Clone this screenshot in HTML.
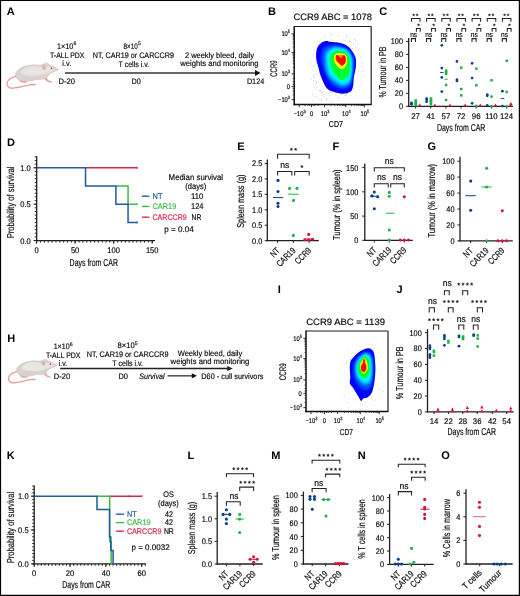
<!DOCTYPE html>
<html><head><meta charset="utf-8"><style>
html,body{margin:0;padding:0;background:#fff;}
body{width:520px;height:596px;overflow:hidden;}
svg{display:block;font-family:"Liberation Sans",sans-serif;will-change:transform;text-rendering:geometricPrecision;}
</style></head><body>
<svg width="520" height="596" viewBox="0 0 520 596">
<rect x="0" y="0" width="520" height="596" fill="#fff"/>
<path d="M0,0 H520 V596 H0 Z M1.1,1.0 V594.7 H518.8 V1.0 Z" fill="#000" fill-rule="evenodd"/>
<defs><filter id="mb" x="-10%" y="-10%" width="120%" height="120%"><feGaussianBlur stdDeviation="0.8"/></filter></defs>

<g>
 <path d="M15.6,76.3 C11.5,77.2 8,79.5 7,83 C6.4,86 9,88.4 12.6,88.2 C17,88 23,86.3 29.7,84.8 C32,84.4 34,84.4 35.3,84.7" fill="none" stroke="#e29d99" stroke-width="1.35" stroke-linecap="round"/>
 <path d="M18.4,79.2 C19.3,81.6 21,82.7 24,82.8 C26.3,82.9 27.8,82.4 27.6,81.5 C26.5,80.9 24.5,80.8 23.5,79.8 Z" fill="#e8a6a2"/>
 <path d="M43.6,77.3 C44.6,79.8 46.2,81.4 48.8,82.2 C50.3,82.7 52.2,82.7 52.4,81.9 C51.8,81.2 50.2,81.1 49,80.6 C47.8,79.9 47.2,78.6 46.8,77.2 Z" fill="#e8a6a2"/>
 <path d="M15.20,75.20 C15.10,74.18 15.73,73.02 16.20,72.20 C16.67,71.38 17.37,70.92 18.00,70.30 C18.63,69.68 19.28,69.02 20.00,68.50 C20.72,67.98 21.47,67.60 22.30,67.20 C23.13,66.80 24.08,66.40 25.00,66.10 C25.92,65.80 26.80,65.58 27.80,65.40 C28.80,65.22 29.97,65.10 31.00,65.00 C32.03,64.90 33.00,64.82 34.00,64.80 C35.00,64.78 35.92,64.88 37.00,64.90 C38.08,64.92 39.50,65.02 40.50,64.90 C41.50,64.78 42.25,64.42 43.00,64.20 C43.75,63.98 44.33,63.63 45.00,63.60 C45.67,63.57 46.12,63.75 47.00,64.00 C47.88,64.25 49.30,64.72 50.30,65.10 C51.30,65.48 52.08,65.87 53.00,66.30 C53.92,66.73 54.95,67.18 55.80,67.70 C56.65,68.22 57.88,68.92 58.10,69.40 C58.32,69.88 57.57,70.28 57.10,70.60 C56.63,70.92 55.95,71.03 55.30,71.30 C54.65,71.57 53.87,71.88 53.20,72.20 C52.53,72.52 51.92,72.82 51.30,73.20 C50.68,73.58 50.08,73.95 49.50,74.50 C48.92,75.05 48.42,75.87 47.80,76.50 C47.18,77.13 46.82,77.80 45.80,78.30 C44.78,78.80 43.08,79.32 41.70,79.50 C40.32,79.68 38.78,79.28 37.50,79.40 C36.22,79.52 35.25,79.95 34.00,80.20 C32.75,80.45 31.23,80.72 30.00,80.90 C28.77,81.08 28.18,81.35 26.60,81.30 C25.02,81.25 22.13,81.10 20.50,80.60 C18.87,80.10 17.68,79.20 16.80,78.30 C15.92,77.40 15.30,76.22 15.20,75.20 Z" fill="#d8d2cd" stroke="#cbc3bc" stroke-width="0.45"/>
 <path d="M21.00,71.50 C21.42,70.58 23.08,69.12 24.50,68.30 C25.92,67.48 27.58,66.95 29.50,66.60 C31.42,66.25 33.92,66.20 36.00,66.20 C38.08,66.20 40.25,66.47 42.00,66.60 C43.75,66.73 45.08,66.85 46.50,67.00 C47.92,67.15 49.17,67.12 50.50,67.50 C51.83,67.88 54.17,68.67 54.50,69.30 C54.83,69.93 53.67,70.65 52.50,71.30 C51.33,71.95 49.42,72.58 47.50,73.20 C45.58,73.82 43.42,74.60 41.00,75.00 C38.58,75.40 35.50,75.60 33.00,75.60 C30.50,75.60 27.83,75.30 26.00,75.00 C24.17,74.70 22.83,74.38 22.00,73.80 C21.17,73.22 20.58,72.42 21.00,71.50 Z" fill="#e8e6e4" filter="url(#mb)"/>
 <ellipse cx="46.3" cy="63.7" rx="1.5" ry="1.2" fill="#ddd7d2"/>
 <ellipse cx="44.0" cy="67.3" rx="2.0" ry="2.7" transform="rotate(-12 44 67.3)" fill="#eaaea9" stroke="#e2d8d3" stroke-width="0.4"/>
 <circle cx="51.5" cy="68.3" r="0.75" fill="#c0142c"/>
 <circle cx="57.8" cy="69.6" r="0.5" fill="#e3a5a2"/>
 <path d="M57.2,69.2 L60.2,64.6 M57.6,69.4 L60.8,66.8" stroke="#d6d6d6" stroke-width="0.3"/>
</g>
<g transform="translate(16.8 372.8) scale(0.94) translate(-15.8 -77.5)">
<g>
 <path d="M15.6,76.3 C11.5,77.2 8,79.5 7,83 C6.4,86 9,88.4 12.6,88.2 C17,88 23,86.3 29.7,84.8 C32,84.4 34,84.4 35.3,84.7" fill="none" stroke="#e29d99" stroke-width="1.35" stroke-linecap="round"/>
 <path d="M18.4,79.2 C19.3,81.6 21,82.7 24,82.8 C26.3,82.9 27.8,82.4 27.6,81.5 C26.5,80.9 24.5,80.8 23.5,79.8 Z" fill="#e8a6a2"/>
 <path d="M43.6,77.3 C44.6,79.8 46.2,81.4 48.8,82.2 C50.3,82.7 52.2,82.7 52.4,81.9 C51.8,81.2 50.2,81.1 49,80.6 C47.8,79.9 47.2,78.6 46.8,77.2 Z" fill="#e8a6a2"/>
 <path d="M15.20,75.20 C15.10,74.18 15.73,73.02 16.20,72.20 C16.67,71.38 17.37,70.92 18.00,70.30 C18.63,69.68 19.28,69.02 20.00,68.50 C20.72,67.98 21.47,67.60 22.30,67.20 C23.13,66.80 24.08,66.40 25.00,66.10 C25.92,65.80 26.80,65.58 27.80,65.40 C28.80,65.22 29.97,65.10 31.00,65.00 C32.03,64.90 33.00,64.82 34.00,64.80 C35.00,64.78 35.92,64.88 37.00,64.90 C38.08,64.92 39.50,65.02 40.50,64.90 C41.50,64.78 42.25,64.42 43.00,64.20 C43.75,63.98 44.33,63.63 45.00,63.60 C45.67,63.57 46.12,63.75 47.00,64.00 C47.88,64.25 49.30,64.72 50.30,65.10 C51.30,65.48 52.08,65.87 53.00,66.30 C53.92,66.73 54.95,67.18 55.80,67.70 C56.65,68.22 57.88,68.92 58.10,69.40 C58.32,69.88 57.57,70.28 57.10,70.60 C56.63,70.92 55.95,71.03 55.30,71.30 C54.65,71.57 53.87,71.88 53.20,72.20 C52.53,72.52 51.92,72.82 51.30,73.20 C50.68,73.58 50.08,73.95 49.50,74.50 C48.92,75.05 48.42,75.87 47.80,76.50 C47.18,77.13 46.82,77.80 45.80,78.30 C44.78,78.80 43.08,79.32 41.70,79.50 C40.32,79.68 38.78,79.28 37.50,79.40 C36.22,79.52 35.25,79.95 34.00,80.20 C32.75,80.45 31.23,80.72 30.00,80.90 C28.77,81.08 28.18,81.35 26.60,81.30 C25.02,81.25 22.13,81.10 20.50,80.60 C18.87,80.10 17.68,79.20 16.80,78.30 C15.92,77.40 15.30,76.22 15.20,75.20 Z" fill="#d8d2cd" stroke="#cbc3bc" stroke-width="0.45"/>
 <path d="M21.00,71.50 C21.42,70.58 23.08,69.12 24.50,68.30 C25.92,67.48 27.58,66.95 29.50,66.60 C31.42,66.25 33.92,66.20 36.00,66.20 C38.08,66.20 40.25,66.47 42.00,66.60 C43.75,66.73 45.08,66.85 46.50,67.00 C47.92,67.15 49.17,67.12 50.50,67.50 C51.83,67.88 54.17,68.67 54.50,69.30 C54.83,69.93 53.67,70.65 52.50,71.30 C51.33,71.95 49.42,72.58 47.50,73.20 C45.58,73.82 43.42,74.60 41.00,75.00 C38.58,75.40 35.50,75.60 33.00,75.60 C30.50,75.60 27.83,75.30 26.00,75.00 C24.17,74.70 22.83,74.38 22.00,73.80 C21.17,73.22 20.58,72.42 21.00,71.50 Z" fill="#e8e6e4" filter="url(#mb)"/>
 <ellipse cx="46.3" cy="63.7" rx="1.5" ry="1.2" fill="#ddd7d2"/>
 <ellipse cx="44.0" cy="67.3" rx="2.0" ry="2.7" transform="rotate(-12 44 67.3)" fill="#eaaea9" stroke="#e2d8d3" stroke-width="0.4"/>
 <circle cx="51.5" cy="68.3" r="0.75" fill="#c0142c"/>
 <circle cx="57.8" cy="69.6" r="0.5" fill="#e3a5a2"/>
 <path d="M57.2,69.2 L60.2,64.6 M57.6,69.4 L60.8,66.8" stroke="#d6d6d6" stroke-width="0.3"/>
</g></g>
<text x="6.80" y="15.10" font-size="11" fill="#000" font-weight="bold">A</text>
<text x="56.90" y="48.80" font-size="8.0" stroke="#231f20" stroke-width="0.18" textLength="16.31" lengthAdjust="spacingAndGlyphs">1×10</text>
<text x="73.41" y="45.44" font-size="5.2" stroke="#231f20" stroke-width="0.18" textLength="2.89" lengthAdjust="spacingAndGlyphs">6</text>
<text x="50.00" y="57.80" font-size="8.0" stroke="#231f20" stroke-width="0.18" textLength="34.40" lengthAdjust="spacingAndGlyphs">T-ALL PDX</text>
<text x="62.30" y="66.30" font-size="8.0" stroke="#231f20" stroke-width="0.18" textLength="9.00" lengthAdjust="spacingAndGlyphs">i.v.</text>
<text x="58.50" y="83.50" font-size="8.0" stroke="#231f20" stroke-width="0.18" textLength="16.50" lengthAdjust="spacingAndGlyphs">D-20</text>
<text x="123.50" y="48.80" font-size="8.0" stroke="#231f20" stroke-width="0.18" textLength="14.21" lengthAdjust="spacingAndGlyphs">8×10</text>
<text x="137.91" y="45.44" font-size="5.2" stroke="#231f20" stroke-width="0.18" textLength="2.89" lengthAdjust="spacingAndGlyphs">5</text>
<text x="92.80" y="57.80" font-size="8.0" stroke="#231f20" stroke-width="0.18" textLength="81.10" lengthAdjust="spacingAndGlyphs">NT, CAR19 or CARCCR9</text>
<text x="118.50" y="66.80" font-size="8.0" stroke="#231f20" stroke-width="0.18" textLength="30.70" lengthAdjust="spacingAndGlyphs">T cells i.v.</text>
<text x="131.50" y="83.50" font-size="8.0" stroke="#231f20" stroke-width="0.18" textLength="9.30" lengthAdjust="spacingAndGlyphs">D0</text>
<text x="184.90" y="57.80" font-size="8.0" stroke="#231f20" stroke-width="0.18" textLength="69.10" lengthAdjust="spacingAndGlyphs">2 weekly bleed, daily</text>
<text x="180.30" y="66.30" font-size="8.0" stroke="#231f20" stroke-width="0.18" textLength="78.20" lengthAdjust="spacingAndGlyphs">weights and monitoring</text>
<text x="246.90" y="83.60" font-size="8.0" stroke="#231f20" stroke-width="0.18" textLength="17.30" lengthAdjust="spacingAndGlyphs">D124</text>
<line x1="65.00" y1="73.00" x2="256.00" y2="73.00" stroke="#333" stroke-width="1.5"/>
<polygon points="255,70.1 260.6,73.0 255,76.0" fill="#111"/>
<text x="7.30" y="342.30" font-size="11" fill="#000" font-weight="bold">H</text>
<text x="53.70" y="348.90" font-size="8.0" stroke="#231f20" stroke-width="0.18" textLength="15.91" lengthAdjust="spacingAndGlyphs">1×10</text>
<text x="69.81" y="345.54" font-size="5.2" stroke="#231f20" stroke-width="0.18" textLength="2.89" lengthAdjust="spacingAndGlyphs">6</text>
<text x="45.90" y="357.90" font-size="8.0" stroke="#231f20" stroke-width="0.18" textLength="34.60" lengthAdjust="spacingAndGlyphs">T-ALL PDX</text>
<text x="58.80" y="366.00" font-size="8.0" stroke="#231f20" stroke-width="0.18" textLength="8.40" lengthAdjust="spacingAndGlyphs">i.v.</text>
<text x="53.70" y="379.00" font-size="8.0" stroke="#231f20" stroke-width="0.18" textLength="16.40" lengthAdjust="spacingAndGlyphs">D-20</text>
<text x="117.50" y="348.40" font-size="8.0" stroke="#231f20" stroke-width="0.18" textLength="17.11" lengthAdjust="spacingAndGlyphs">8×10</text>
<text x="134.81" y="345.04" font-size="5.2" stroke="#231f20" stroke-width="0.18" textLength="2.89" lengthAdjust="spacingAndGlyphs">5</text>
<text x="86.70" y="357.30" font-size="8.0" stroke="#231f20" stroke-width="0.18" textLength="81.80" lengthAdjust="spacingAndGlyphs">NT, CAR19 or CARCCR9</text>
<text x="112.30" y="366.30" font-size="8.0" stroke="#231f20" stroke-width="0.18" textLength="30.70" lengthAdjust="spacingAndGlyphs">T cells i.v.</text>
<text x="118.50" y="378.80" font-size="8.0" stroke="#231f20" stroke-width="0.18" textLength="9.50" lengthAdjust="spacingAndGlyphs">D0</text>
<text x="139.20" y="378.80" font-size="8.0" stroke="#231f20" stroke-width="0.18" font-style="italic" textLength="25.40" lengthAdjust="spacingAndGlyphs">Survival</text>
<text x="177.70" y="355.70" font-size="8.0" stroke="#231f20" stroke-width="0.18" textLength="64.60" lengthAdjust="spacingAndGlyphs">Weekly bleed, daily</text>
<text x="170.60" y="364.00" font-size="8.0" stroke="#231f20" stroke-width="0.18" textLength="78.80" lengthAdjust="spacingAndGlyphs">weights and monitoring</text>
<text x="201.30" y="378.90" font-size="8.0" stroke="#231f20" stroke-width="0.18" textLength="62.20" lengthAdjust="spacingAndGlyphs">D60 - cull survivors</text>
<line x1="60.20" y1="368.50" x2="228.00" y2="368.50" stroke="#231f20" stroke-width="1.5"/>
<polygon points="227.2,365.9 232.8,368.5 227.2,371.1" fill="#231f20"/>
<line x1="167.50" y1="375.80" x2="192.50" y2="375.80" stroke="#555" stroke-width="1.6"/>
<polygon points="191.8,373.2 196.9,375.8 191.8,378.4" fill="#111"/>
<text x="268.00" y="15.40" font-size="11" fill="#000" font-weight="bold">B</text>
<text x="293.50" y="20.30" font-size="9.2" stroke="#231f20" stroke-width="0.18" textLength="78.50" lengthAdjust="spacingAndGlyphs">CCR9 ABC = 1078</text>
<rect x="338.9" y="97.9" width="0.7" height="0.7" fill="#8a8a8a" opacity="0.7"/>
<rect x="319.6" y="90.0" width="0.7" height="0.7" fill="#8a8a8a" opacity="0.7"/>
<rect x="321.9" y="48.1" width="0.7" height="0.7" fill="#8a8a8a" opacity="0.7"/>
<rect x="364.1" y="69.8" width="0.7" height="0.7" fill="#8a8a8a" opacity="0.7"/>
<rect x="335.7" y="95.1" width="0.7" height="0.7" fill="#8a8a8a" opacity="0.7"/>
<rect x="361.4" y="66.2" width="0.7" height="0.7" fill="#8a8a8a" opacity="0.7"/>
<rect x="349.7" y="41.0" width="0.7" height="0.7" fill="#8a8a8a" opacity="0.7"/>
<rect x="322.8" y="46.0" width="0.7" height="0.7" fill="#8a8a8a" opacity="0.7"/>
<rect x="318.9" y="41.6" width="0.7" height="0.7" fill="#8a8a8a" opacity="0.7"/>
<rect x="310.8" y="62.2" width="0.7" height="0.7" fill="#8a8a8a" opacity="0.7"/>
<rect x="326.8" y="43.6" width="0.7" height="0.7" fill="#8a8a8a" opacity="0.7"/>
<rect x="338.3" y="35.7" width="0.7" height="0.7" fill="#8a8a8a" opacity="0.7"/>
<rect x="330.3" y="91.9" width="0.7" height="0.7" fill="#8a8a8a" opacity="0.7"/>
<rect x="353.2" y="44.3" width="0.7" height="0.7" fill="#8a8a8a" opacity="0.7"/>
<rect x="331.7" y="33.7" width="0.7" height="0.7" fill="#8a8a8a" opacity="0.7"/>
<rect x="330.8" y="33.5" width="0.7" height="0.7" fill="#8a8a8a" opacity="0.7"/>
<rect x="315.8" y="87.4" width="0.7" height="0.7" fill="#8a8a8a" opacity="0.7"/>
<rect x="310.8" y="78.8" width="0.7" height="0.7" fill="#8a8a8a" opacity="0.7"/>
<rect x="352.7" y="48.5" width="0.7" height="0.7" fill="#8a8a8a" opacity="0.7"/>
<rect x="351.8" y="88.1" width="0.7" height="0.7" fill="#8a8a8a" opacity="0.7"/>
<rect x="360.6" y="60.6" width="0.7" height="0.7" fill="#8a8a8a" opacity="0.7"/>
<rect x="320.8" y="46.5" width="0.7" height="0.7" fill="#8a8a8a" opacity="0.7"/>
<rect x="313.2" y="65.7" width="0.7" height="0.7" fill="#8a8a8a" opacity="0.7"/>
<rect x="322.0" y="92.2" width="0.7" height="0.7" fill="#8a8a8a" opacity="0.7"/>
<rect x="313.1" y="49.7" width="0.7" height="0.7" fill="#8a8a8a" opacity="0.7"/>
<rect x="325.5" y="35.6" width="0.7" height="0.7" fill="#8a8a8a" opacity="0.7"/>
<rect x="354.5" y="39.5" width="0.7" height="0.7" fill="#8a8a8a" opacity="0.7"/>
<rect x="326.5" y="42.8" width="0.7" height="0.7" fill="#8a8a8a" opacity="0.7"/>
<rect x="355.0" y="40.3" width="0.7" height="0.7" fill="#8a8a8a" opacity="0.7"/>
<rect x="357.8" y="49.4" width="0.7" height="0.7" fill="#8a8a8a" opacity="0.7"/>
<rect x="331.9" y="39.8" width="0.7" height="0.7" fill="#8a8a8a" opacity="0.7"/>
<rect x="349.4" y="39.8" width="0.7" height="0.7" fill="#8a8a8a" opacity="0.7"/>
<rect x="332.3" y="92.9" width="0.7" height="0.7" fill="#8a8a8a" opacity="0.7"/>
<rect x="354.2" y="39.2" width="0.7" height="0.7" fill="#8a8a8a" opacity="0.7"/>
<rect x="359.8" y="84.6" width="0.7" height="0.7" fill="#8a8a8a" opacity="0.7"/>
<rect x="318.3" y="81.6" width="0.7" height="0.7" fill="#8a8a8a" opacity="0.7"/>
<rect x="329.7" y="98.7" width="0.7" height="0.7" fill="#8a8a8a" opacity="0.7"/>
<rect x="351.9" y="48.1" width="0.7" height="0.7" fill="#8a8a8a" opacity="0.7"/>
<rect x="321.0" y="49.6" width="0.7" height="0.7" fill="#8a8a8a" opacity="0.7"/>
<rect x="332.4" y="38.6" width="0.7" height="0.7" fill="#8a8a8a" opacity="0.7"/>
<rect x="357.7" y="43.2" width="0.7" height="0.7" fill="#8a8a8a" opacity="0.7"/>
<rect x="308.7" y="65.8" width="0.7" height="0.7" fill="#8a8a8a" opacity="0.7"/>
<rect x="329.1" y="91.8" width="0.7" height="0.7" fill="#8a8a8a" opacity="0.7"/>
<rect x="319.8" y="51.6" width="0.7" height="0.7" fill="#8a8a8a" opacity="0.7"/>
<rect x="344.8" y="95.1" width="0.7" height="0.7" fill="#8a8a8a" opacity="0.7"/>
<rect x="320.0" y="49.5" width="0.7" height="0.7" fill="#8a8a8a" opacity="0.7"/>
<rect x="363.4" y="75.9" width="0.7" height="0.7" fill="#8a8a8a" opacity="0.7"/>
<rect x="326.1" y="99.0" width="0.7" height="0.7" fill="#8a8a8a" opacity="0.7"/>
<rect x="355.9" y="49.2" width="0.7" height="0.7" fill="#8a8a8a" opacity="0.7"/>
<rect x="312.9" y="74.6" width="0.7" height="0.7" fill="#8a8a8a" opacity="0.7"/>
<rect x="321.3" y="42.3" width="0.7" height="0.7" fill="#8a8a8a" opacity="0.7"/>
<rect x="313.2" y="55.5" width="0.7" height="0.7" fill="#8a8a8a" opacity="0.7"/>
<rect x="360.0" y="55.8" width="0.7" height="0.7" fill="#8a8a8a" opacity="0.7"/>
<rect x="313.1" y="80.6" width="0.7" height="0.7" fill="#8a8a8a" opacity="0.7"/>
<rect x="338.8" y="95.7" width="0.7" height="0.7" fill="#8a8a8a" opacity="0.7"/>
<rect x="361.6" y="62.7" width="0.7" height="0.7" fill="#8a8a8a" opacity="0.7"/>
<rect x="316.9" y="59.2" width="0.7" height="0.7" fill="#8a8a8a" opacity="0.7"/>
<rect x="315.2" y="82.9" width="0.7" height="0.7" fill="#8a8a8a" opacity="0.7"/>
<rect x="362.3" y="71.0" width="0.7" height="0.7" fill="#8a8a8a" opacity="0.7"/>
<rect x="322.5" y="47.4" width="0.7" height="0.7" fill="#8a8a8a" opacity="0.7"/>
<rect x="320.0" y="45.3" width="0.7" height="0.7" fill="#8a8a8a" opacity="0.7"/>
<rect x="326.9" y="40.6" width="0.7" height="0.7" fill="#8a8a8a" opacity="0.7"/>
<rect x="329.9" y="35.5" width="0.7" height="0.7" fill="#8a8a8a" opacity="0.7"/>
<rect x="358.2" y="70.7" width="0.7" height="0.7" fill="#8a8a8a" opacity="0.7"/>
<rect x="324.4" y="35.9" width="0.7" height="0.7" fill="#8a8a8a" opacity="0.7"/>
<rect x="336.8" y="97.2" width="0.7" height="0.7" fill="#8a8a8a" opacity="0.7"/>
<rect x="317.5" y="51.1" width="0.7" height="0.7" fill="#8a8a8a" opacity="0.7"/>
<rect x="321.7" y="88.8" width="0.7" height="0.7" fill="#8a8a8a" opacity="0.7"/>
<rect x="319.7" y="90.0" width="0.7" height="0.7" fill="#8a8a8a" opacity="0.7"/>
<rect x="329.6" y="95.0" width="0.7" height="0.7" fill="#8a8a8a" opacity="0.7"/>
<rect x="340.0" y="41.0" width="0.7" height="0.7" fill="#8a8a8a" opacity="0.7"/>
<rect x="313.1" y="53.2" width="0.7" height="0.7" fill="#8a8a8a" opacity="0.7"/>
<rect x="328.7" y="93.1" width="0.7" height="0.7" fill="#8a8a8a" opacity="0.7"/>
<rect x="344.5" y="40.4" width="0.7" height="0.7" fill="#8a8a8a" opacity="0.7"/>
<rect x="346.3" y="94.7" width="0.7" height="0.7" fill="#8a8a8a" opacity="0.7"/>
<rect x="330.0" y="41.5" width="0.7" height="0.7" fill="#8a8a8a" opacity="0.7"/>
<rect x="326.8" y="93.1" width="0.7" height="0.7" fill="#8a8a8a" opacity="0.7"/>
<rect x="349.1" y="41.0" width="0.7" height="0.7" fill="#8a8a8a" opacity="0.7"/>
<rect x="350.7" y="45.3" width="0.7" height="0.7" fill="#8a8a8a" opacity="0.7"/>
<rect x="323.6" y="94.3" width="0.7" height="0.7" fill="#8a8a8a" opacity="0.7"/>
<rect x="355.2" y="47.1" width="0.7" height="0.7" fill="#8a8a8a" opacity="0.7"/>
<rect x="340.4" y="93.8" width="0.7" height="0.7" fill="#8a8a8a" opacity="0.7"/>
<rect x="315.0" y="61.9" width="0.7" height="0.7" fill="#8a8a8a" opacity="0.7"/>
<rect x="346.5" y="35.5" width="0.7" height="0.7" fill="#8a8a8a" opacity="0.7"/>
<rect x="346.3" y="93.1" width="0.7" height="0.7" fill="#8a8a8a" opacity="0.7"/>
<rect x="346.0" y="37.2" width="0.7" height="0.7" fill="#8a8a8a" opacity="0.7"/>
<rect x="345.1" y="39.7" width="0.7" height="0.7" fill="#8a8a8a" opacity="0.7"/>
<rect x="352.9" y="87.9" width="0.7" height="0.7" fill="#8a8a8a" opacity="0.7"/>
<rect x="343.3" y="39.6" width="0.7" height="0.7" fill="#8a8a8a" opacity="0.7"/>
<rect x="323.3" y="91.5" width="0.7" height="0.7" fill="#8a8a8a" opacity="0.7"/>
<rect x="312.1" y="100.3" width="0.7" height="0.7" fill="#8a8a8a" opacity="0.7"/>
<rect x="331.4" y="101.6" width="0.7" height="0.7" fill="#8a8a8a" opacity="0.7"/>
<rect x="321.6" y="100.5" width="0.7" height="0.7" fill="#8a8a8a" opacity="0.7"/>
<rect x="317.0" y="74.0" width="0.7" height="0.7" fill="#8a8a8a" opacity="0.7"/>
<rect x="312.3" y="94.4" width="0.7" height="0.7" fill="#8a8a8a" opacity="0.7"/>
<rect x="315.8" y="81.0" width="0.7" height="0.7" fill="#8a8a8a" opacity="0.7"/>
<rect x="321.1" y="100.2" width="0.7" height="0.7" fill="#8a8a8a" opacity="0.7"/>
<rect x="317.6" y="97.8" width="0.7" height="0.7" fill="#8a8a8a" opacity="0.7"/>
<rect x="322.5" y="95.5" width="0.7" height="0.7" fill="#8a8a8a" opacity="0.7"/>
<rect x="323.8" y="96.5" width="0.7" height="0.7" fill="#8a8a8a" opacity="0.7"/>
<rect x="315.8" y="95.8" width="0.7" height="0.7" fill="#8a8a8a" opacity="0.7"/>
<rect x="325.8" y="97.9" width="0.7" height="0.7" fill="#8a8a8a" opacity="0.7"/>
<rect x="313.1" y="80.1" width="0.7" height="0.7" fill="#8a8a8a" opacity="0.7"/>
<rect x="313.2" y="75.8" width="0.7" height="0.7" fill="#8a8a8a" opacity="0.7"/>
<rect x="314.7" y="74.1" width="0.7" height="0.7" fill="#8a8a8a" opacity="0.7"/>
<rect x="313.9" y="87.1" width="0.7" height="0.7" fill="#8a8a8a" opacity="0.7"/>
<rect x="319.7" y="91.4" width="0.7" height="0.7" fill="#8a8a8a" opacity="0.7"/>
<rect x="316.2" y="81.9" width="0.7" height="0.7" fill="#8a8a8a" opacity="0.7"/>
<rect x="314.7" y="88.7" width="0.7" height="0.7" fill="#8a8a8a" opacity="0.7"/>
<rect x="313.8" y="77.4" width="0.7" height="0.7" fill="#8a8a8a" opacity="0.7"/>
<rect x="321.3" y="92.8" width="0.7" height="0.7" fill="#8a8a8a" opacity="0.7"/>
<rect x="313.6" y="84.7" width="0.7" height="0.7" fill="#8a8a8a" opacity="0.7"/>
<rect x="321.4" y="98.4" width="0.7" height="0.7" fill="#8a8a8a" opacity="0.7"/>
<rect x="314.7" y="96.4" width="0.7" height="0.7" fill="#8a8a8a" opacity="0.7"/>
<rect x="326.6" y="98.6" width="0.7" height="0.7" fill="#8a8a8a" opacity="0.7"/>
<defs><filter id="bl" x="-20%" y="-20%" width="140%" height="140%"><feGaussianBlur stdDeviation="1.0"/></filter><filter id="bl2" x="-20%" y="-20%" width="140%" height="140%"><feGaussianBlur stdDeviation="0.7"/></filter></defs>
<path d="M326.07,41.11 C324.38,41.35 322.07,42.18 320.54,43.51 C319.00,44.83 317.57,46.55 316.85,49.04 C316.12,51.53 315.92,55.34 316.20,58.45 C316.48,61.56 317.81,64.91 318.51,67.68 C319.20,70.44 319.58,72.72 320.35,75.06 C321.12,77.39 322.04,79.51 323.12,81.70 C324.19,83.88 325.09,86.46 326.81,88.15 C328.53,89.85 330.81,90.92 333.45,91.85 C336.09,92.77 339.88,93.69 342.68,93.69 C345.47,93.69 348.52,93.11 350.24,91.85 C351.96,90.58 352.39,88.62 353.01,86.13 C353.62,83.63 353.47,79.98 353.93,76.90 C354.39,73.83 355.47,70.75 355.77,67.68 C356.08,64.60 356.39,61.25 355.77,58.45 C355.16,55.65 353.65,53.07 352.08,50.89 C350.52,48.70 348.70,46.73 346.37,45.35 C344.03,43.97 340.68,43.14 338.06,42.58 C335.45,42.03 332.68,42.28 330.68,42.03 C328.68,41.78 327.76,40.86 326.07,41.11 Z" fill="#0000ff"/>
<g filter="url(#bl)">
<path d="M328.84,45.54 C326.84,46.07 324.53,46.15 323.30,48.30 C322.07,50.46 321.38,54.91 321.46,58.45 C321.53,61.99 322.69,66.14 323.76,69.52 C324.84,72.90 326.15,75.98 327.92,78.75 C329.68,81.51 331.91,84.43 334.37,86.13 C336.83,87.82 340.14,88.89 342.68,88.89 C345.21,88.89 348.13,88.12 349.59,86.13 C351.05,84.13 350.82,79.98 351.44,76.90 C352.05,73.83 352.98,70.90 353.28,67.68 C353.59,64.45 353.98,60.45 353.28,57.53 C352.59,54.61 350.90,51.99 349.13,50.15 C347.36,48.30 344.98,47.30 342.68,46.46 C340.37,45.61 337.60,45.23 335.30,45.07 C332.99,44.92 330.84,45.00 328.84,45.54 Z" fill="#0050ff"/>
<path d="M332.53,47.38 C330.22,48.15 327.30,49.84 326.07,51.99 C324.84,54.15 325.15,57.22 325.15,60.30 C325.15,63.37 325.15,67.37 326.07,70.44 C326.99,73.52 328.68,76.44 330.68,78.75 C332.68,81.05 336.06,83.05 338.06,84.28 C340.06,85.51 340.68,86.28 342.68,86.13 C344.67,85.97 348.44,85.20 350.06,83.36 C351.67,81.51 351.90,77.67 352.36,75.06 C352.82,72.44 352.90,70.60 352.82,67.68 C352.75,64.75 352.82,60.53 351.90,57.53 C350.98,54.53 349.29,51.38 347.29,49.69 C345.29,48.00 342.37,47.76 339.91,47.38 C337.45,47.00 334.83,46.61 332.53,47.38 Z" fill="#00a8ff"/>
<path d="M333.45,48.76 C331.37,49.66 328.53,51.92 327.45,53.84 C326.38,55.76 326.92,57.99 326.99,60.30 C327.07,62.60 327.41,65.23 327.92,67.68 C328.42,70.12 328.65,72.81 330.04,74.96 C331.42,77.12 334.11,79.08 336.22,80.59 C338.32,82.10 340.52,83.93 342.68,84.00 C344.83,84.08 347.63,82.56 349.13,81.05 C350.64,79.54 351.25,77.19 351.72,74.96 C352.18,72.73 352.02,70.73 351.90,67.68 C351.78,64.62 352.05,59.53 350.98,56.61 C349.90,53.68 347.29,51.50 345.44,50.15 C343.60,48.79 341.91,48.72 339.91,48.49 C337.91,48.26 335.53,47.87 333.45,48.76 Z" fill="#00f4ff"/>
</g><g filter="url(#bl2)">
<path d="M336.22,50.89 C333.91,51.35 331.94,52.85 330.87,54.58 C329.79,56.30 329.67,59.03 329.76,61.22 C329.85,63.40 330.51,65.38 331.42,67.68 C332.33,69.97 333.33,72.89 335.20,74.96 C337.08,77.04 340.43,80.13 342.68,80.13 C344.92,80.13 347.44,76.73 348.67,74.96 C349.90,73.19 349.95,72.27 350.06,69.52 C350.16,66.77 350.21,61.40 349.32,58.45 C348.43,55.50 346.89,53.07 344.70,51.81 C342.52,50.55 338.52,50.42 336.22,50.89 Z" fill="#00ff30"/>
<path d="M336.03,53.84 C334.39,54.61 333.73,56.64 333.73,58.45 C333.73,60.26 334.70,62.91 336.03,64.72 C337.37,66.54 340.00,69.34 341.75,69.34 C343.51,69.34 345.72,66.85 346.55,64.72 C347.38,62.60 347.23,58.42 346.73,56.61 C346.24,54.79 345.38,54.30 343.60,53.84 C341.81,53.38 337.68,53.07 336.03,53.84 Z" fill="#f0ff00"/>
<path d="M336.40,55.68 C335.11,56.50 335.13,58.60 335.48,59.83 C335.83,61.06 337.48,62.06 338.52,63.06 C339.57,64.06 340.60,65.91 341.75,65.83 C342.91,65.75 344.80,64.06 345.44,62.60 C346.09,61.14 346.00,58.34 345.63,57.07 C345.26,55.79 344.77,55.18 343.23,54.94 C341.69,54.71 337.69,54.87 336.40,55.68 Z" fill="#ff9000"/>
<path d="M336.03,55.87 C336.25,54.94 337.26,54.82 338.06,55.22 C338.86,55.62 339.91,58.27 340.83,58.27 C341.75,58.27 342.80,55.31 343.60,55.22 C344.40,55.13 345.32,56.53 345.63,57.71 C345.93,58.90 345.78,61.16 345.44,62.32 C345.10,63.49 344.21,64.17 343.60,64.72 C342.98,65.28 342.52,65.92 341.75,65.65 C340.98,65.37 339.82,63.88 338.99,63.06 C338.15,62.25 337.26,61.96 336.77,60.76 C336.28,59.56 335.82,56.79 336.03,55.87 Z" fill="#ff0000"/>
</g>
<line x1="294.20" y1="26.50" x2="371.20" y2="26.50" stroke="#222" stroke-width="1.2"/>
<line x1="371.20" y1="26.50" x2="371.20" y2="104.60" stroke="#222" stroke-width="1.2"/>
<line x1="294.20" y1="26.00" x2="294.20" y2="105.30" stroke="#111" stroke-width="1.5"/>
<line x1="293.50" y1="104.60" x2="371.70" y2="104.60" stroke="#111" stroke-width="1.5"/>
<line x1="291.60" y1="33.80" x2="294.20" y2="33.80" stroke="#231f20" stroke-width="0.9"/>
<line x1="291.60" y1="52.60" x2="294.20" y2="52.60" stroke="#231f20" stroke-width="0.9"/>
<line x1="291.60" y1="73.80" x2="294.20" y2="73.80" stroke="#231f20" stroke-width="0.9"/>
<line x1="291.60" y1="86.60" x2="294.20" y2="86.60" stroke="#231f20" stroke-width="0.9"/>
<line x1="291.60" y1="99.60" x2="294.20" y2="99.60" stroke="#231f20" stroke-width="0.9"/>
<line x1="292.70" y1="46.94" x2="294.20" y2="46.94" stroke="#231f20" stroke-width="0.7"/>
<line x1="292.70" y1="43.63" x2="294.20" y2="43.63" stroke="#231f20" stroke-width="0.7"/>
<line x1="292.70" y1="41.28" x2="294.20" y2="41.28" stroke="#231f20" stroke-width="0.7"/>
<line x1="292.70" y1="39.46" x2="294.20" y2="39.46" stroke="#231f20" stroke-width="0.7"/>
<line x1="292.70" y1="37.97" x2="294.20" y2="37.97" stroke="#231f20" stroke-width="0.7"/>
<line x1="292.70" y1="36.71" x2="294.20" y2="36.71" stroke="#231f20" stroke-width="0.7"/>
<line x1="292.70" y1="35.62" x2="294.20" y2="35.62" stroke="#231f20" stroke-width="0.7"/>
<line x1="292.70" y1="34.66" x2="294.20" y2="34.66" stroke="#231f20" stroke-width="0.7"/>
<line x1="292.70" y1="67.42" x2="294.20" y2="67.42" stroke="#231f20" stroke-width="0.7"/>
<line x1="292.70" y1="63.69" x2="294.20" y2="63.69" stroke="#231f20" stroke-width="0.7"/>
<line x1="292.70" y1="61.04" x2="294.20" y2="61.04" stroke="#231f20" stroke-width="0.7"/>
<line x1="292.70" y1="58.98" x2="294.20" y2="58.98" stroke="#231f20" stroke-width="0.7"/>
<line x1="292.70" y1="57.30" x2="294.20" y2="57.30" stroke="#231f20" stroke-width="0.7"/>
<line x1="292.70" y1="55.88" x2="294.20" y2="55.88" stroke="#231f20" stroke-width="0.7"/>
<line x1="292.70" y1="54.65" x2="294.20" y2="54.65" stroke="#231f20" stroke-width="0.7"/>
<line x1="292.70" y1="53.57" x2="294.20" y2="53.57" stroke="#231f20" stroke-width="0.7"/>
<line x1="292.70" y1="78.50" x2="294.20" y2="78.50" stroke="#231f20" stroke-width="0.7"/>
<line x1="292.70" y1="82.00" x2="294.20" y2="82.00" stroke="#231f20" stroke-width="0.7"/>
<line x1="292.70" y1="84.50" x2="294.20" y2="84.50" stroke="#231f20" stroke-width="0.7"/>
<line x1="292.70" y1="88.70" x2="294.20" y2="88.70" stroke="#231f20" stroke-width="0.7"/>
<line x1="292.70" y1="91.20" x2="294.20" y2="91.20" stroke="#231f20" stroke-width="0.7"/>
<line x1="292.70" y1="95.00" x2="294.20" y2="95.00" stroke="#231f20" stroke-width="0.7"/>
<line x1="299.20" y1="104.60" x2="299.20" y2="107.20" stroke="#231f20" stroke-width="0.9"/>
<line x1="311.50" y1="104.60" x2="311.50" y2="107.20" stroke="#231f20" stroke-width="0.9"/>
<line x1="324.60" y1="104.60" x2="324.60" y2="107.20" stroke="#231f20" stroke-width="0.9"/>
<line x1="345.80" y1="104.60" x2="345.80" y2="107.20" stroke="#231f20" stroke-width="0.9"/>
<line x1="364.40" y1="104.60" x2="364.40" y2="107.20" stroke="#231f20" stroke-width="0.9"/>
<line x1="330.98" y1="104.60" x2="330.98" y2="106.10" stroke="#231f20" stroke-width="0.7"/>
<line x1="334.71" y1="104.60" x2="334.71" y2="106.10" stroke="#231f20" stroke-width="0.7"/>
<line x1="337.36" y1="104.60" x2="337.36" y2="106.10" stroke="#231f20" stroke-width="0.7"/>
<line x1="339.42" y1="104.60" x2="339.42" y2="106.10" stroke="#231f20" stroke-width="0.7"/>
<line x1="341.10" y1="104.60" x2="341.10" y2="106.10" stroke="#231f20" stroke-width="0.7"/>
<line x1="342.52" y1="104.60" x2="342.52" y2="106.10" stroke="#231f20" stroke-width="0.7"/>
<line x1="343.75" y1="104.60" x2="343.75" y2="106.10" stroke="#231f20" stroke-width="0.7"/>
<line x1="344.83" y1="104.60" x2="344.83" y2="106.10" stroke="#231f20" stroke-width="0.7"/>
<line x1="351.40" y1="104.60" x2="351.40" y2="106.10" stroke="#231f20" stroke-width="0.7"/>
<line x1="354.67" y1="104.60" x2="354.67" y2="106.10" stroke="#231f20" stroke-width="0.7"/>
<line x1="357.00" y1="104.60" x2="357.00" y2="106.10" stroke="#231f20" stroke-width="0.7"/>
<line x1="358.80" y1="104.60" x2="358.80" y2="106.10" stroke="#231f20" stroke-width="0.7"/>
<line x1="360.27" y1="104.60" x2="360.27" y2="106.10" stroke="#231f20" stroke-width="0.7"/>
<line x1="361.52" y1="104.60" x2="361.52" y2="106.10" stroke="#231f20" stroke-width="0.7"/>
<line x1="362.60" y1="104.60" x2="362.60" y2="106.10" stroke="#231f20" stroke-width="0.7"/>
<line x1="363.55" y1="104.60" x2="363.55" y2="106.10" stroke="#231f20" stroke-width="0.7"/>
<line x1="305.00" y1="104.60" x2="305.00" y2="106.10" stroke="#231f20" stroke-width="0.7"/>
<line x1="308.00" y1="104.60" x2="308.00" y2="106.10" stroke="#231f20" stroke-width="0.7"/>
<line x1="309.60" y1="104.60" x2="309.60" y2="106.10" stroke="#231f20" stroke-width="0.7"/>
<line x1="313.30" y1="104.60" x2="313.30" y2="106.10" stroke="#231f20" stroke-width="0.7"/>
<line x1="315.00" y1="104.60" x2="315.00" y2="106.10" stroke="#231f20" stroke-width="0.7"/>
<line x1="318.00" y1="104.60" x2="318.00" y2="106.10" stroke="#231f20" stroke-width="0.7"/>
<text x="287.83" y="36.20" font-size="6.8" text-anchor="end" stroke="#231f20" stroke-width="0.18" textLength="6.43" lengthAdjust="spacingAndGlyphs">10</text>
<text x="287.83" y="33.30" font-size="4.6" stroke="#231f20" stroke-width="0.18" textLength="2.17" lengthAdjust="spacingAndGlyphs">5</text>
<text x="287.83" y="55.00" font-size="6.8" text-anchor="end" stroke="#231f20" stroke-width="0.18" textLength="6.43" lengthAdjust="spacingAndGlyphs">10</text>
<text x="287.83" y="52.10" font-size="4.6" stroke="#231f20" stroke-width="0.18" textLength="2.17" lengthAdjust="spacingAndGlyphs">4</text>
<text x="287.83" y="76.20" font-size="6.8" text-anchor="end" stroke="#231f20" stroke-width="0.18" textLength="6.43" lengthAdjust="spacingAndGlyphs">10</text>
<text x="287.83" y="73.30" font-size="4.6" stroke="#231f20" stroke-width="0.18" textLength="2.17" lengthAdjust="spacingAndGlyphs">3</text>
<text x="290.00" y="89.00" font-size="6.8" text-anchor="end" stroke="#231f20" stroke-width="0.18" textLength="3.21" lengthAdjust="spacingAndGlyphs">0</text>
<text x="287.83" y="102.00" font-size="6.8" text-anchor="end" stroke="#231f20" stroke-width="0.18" textLength="9.80" lengthAdjust="spacingAndGlyphs">−10</text>
<text x="287.83" y="99.10" font-size="4.6" stroke="#231f20" stroke-width="0.18" textLength="2.17" lengthAdjust="spacingAndGlyphs">3</text>
<text x="293.71" y="116.00" font-size="6.8" stroke="#231f20" stroke-width="0.18" textLength="9.80" lengthAdjust="spacingAndGlyphs">−10</text>
<text x="303.51" y="113.10" font-size="4.6" stroke="#231f20" stroke-width="0.18" textLength="2.17" lengthAdjust="spacingAndGlyphs">3</text>
<text x="311.50" y="116.00" font-size="6.8" text-anchor="middle" stroke="#231f20" stroke-width="0.18" textLength="3.21" lengthAdjust="spacingAndGlyphs">0</text>
<text x="320.80" y="116.00" font-size="6.8" stroke="#231f20" stroke-width="0.18" textLength="6.43" lengthAdjust="spacingAndGlyphs">10</text>
<text x="327.23" y="113.10" font-size="4.6" stroke="#231f20" stroke-width="0.18" textLength="2.17" lengthAdjust="spacingAndGlyphs">3</text>
<text x="342.00" y="116.00" font-size="6.8" stroke="#231f20" stroke-width="0.18" textLength="6.43" lengthAdjust="spacingAndGlyphs">10</text>
<text x="348.43" y="113.10" font-size="4.6" stroke="#231f20" stroke-width="0.18" textLength="2.17" lengthAdjust="spacingAndGlyphs">4</text>
<text x="360.60" y="116.00" font-size="6.8" stroke="#231f20" stroke-width="0.18" textLength="6.43" lengthAdjust="spacingAndGlyphs">10</text>
<text x="367.03" y="113.10" font-size="4.6" stroke="#231f20" stroke-width="0.18" textLength="2.17" lengthAdjust="spacingAndGlyphs">5</text>
<text x="328.80" y="126.50" font-size="8.6" stroke="#231f20" stroke-width="0.18" textLength="14.10" lengthAdjust="spacingAndGlyphs">CD7</text>
<text x="276.60" y="68.60" font-size="9.6" text-anchor="middle" stroke="#231f20" stroke-width="0.18" textLength="16.10" lengthAdjust="spacingAndGlyphs" transform="rotate(-90 276.60 68.60)">CCR9</text>
<text x="277.80" y="292.90" font-size="11" fill="#000" font-weight="bold">I</text>
<text x="306.20" y="324.60" font-size="9.2" stroke="#231f20" stroke-width="0.18" textLength="78.80" lengthAdjust="spacingAndGlyphs">CCR9 ABC = 1139</text>
<rect x="355.4" y="403.8" width="0.6" height="0.6" fill="#9a9a9a" opacity="0.7"/>
<rect x="353.4" y="355.3" width="0.6" height="0.6" fill="#9a9a9a" opacity="0.7"/>
<rect x="344.8" y="371.0" width="0.6" height="0.6" fill="#9a9a9a" opacity="0.7"/>
<rect x="381.4" y="389.8" width="0.6" height="0.6" fill="#9a9a9a" opacity="0.7"/>
<rect x="381.6" y="385.5" width="0.6" height="0.6" fill="#9a9a9a" opacity="0.7"/>
<rect x="378.1" y="389.9" width="0.6" height="0.6" fill="#9a9a9a" opacity="0.7"/>
<rect x="343.5" y="394.9" width="0.6" height="0.6" fill="#9a9a9a" opacity="0.7"/>
<rect x="375.5" y="398.9" width="0.6" height="0.6" fill="#9a9a9a" opacity="0.7"/>
<rect x="347.1" y="350.4" width="0.6" height="0.6" fill="#9a9a9a" opacity="0.7"/>
<rect x="346.3" y="363.2" width="0.6" height="0.6" fill="#9a9a9a" opacity="0.7"/>
<rect x="379.2" y="373.9" width="0.6" height="0.6" fill="#9a9a9a" opacity="0.7"/>
<rect x="374.4" y="354.3" width="0.6" height="0.6" fill="#9a9a9a" opacity="0.7"/>
<rect x="373.4" y="400.4" width="0.6" height="0.6" fill="#9a9a9a" opacity="0.7"/>
<rect x="371.5" y="408.9" width="0.6" height="0.6" fill="#9a9a9a" opacity="0.7"/>
<rect x="351.0" y="353.8" width="0.6" height="0.6" fill="#9a9a9a" opacity="0.7"/>
<rect x="347.3" y="369.8" width="0.6" height="0.6" fill="#9a9a9a" opacity="0.7"/>
<rect x="379.3" y="388.8" width="0.6" height="0.6" fill="#9a9a9a" opacity="0.7"/>
<rect x="354.9" y="348.8" width="0.6" height="0.6" fill="#9a9a9a" opacity="0.7"/>
<rect x="355.1" y="409.4" width="0.6" height="0.6" fill="#9a9a9a" opacity="0.7"/>
<rect x="345.6" y="386.9" width="0.6" height="0.6" fill="#9a9a9a" opacity="0.7"/>
<rect x="368.8" y="343.9" width="0.6" height="0.6" fill="#9a9a9a" opacity="0.7"/>
<rect x="341.0" y="372.1" width="0.6" height="0.6" fill="#9a9a9a" opacity="0.7"/>
<rect x="360.7" y="347.8" width="0.6" height="0.6" fill="#9a9a9a" opacity="0.7"/>
<rect x="379.7" y="374.5" width="0.6" height="0.6" fill="#9a9a9a" opacity="0.7"/>
<rect x="344.3" y="395.8" width="0.6" height="0.6" fill="#9a9a9a" opacity="0.7"/>
<rect x="374.3" y="404.9" width="0.6" height="0.6" fill="#9a9a9a" opacity="0.7"/>
<rect x="383.2" y="386.6" width="0.6" height="0.6" fill="#9a9a9a" opacity="0.7"/>
<rect x="364.8" y="344.2" width="0.6" height="0.6" fill="#9a9a9a" opacity="0.7"/>
<rect x="375.9" y="356.3" width="0.6" height="0.6" fill="#9a9a9a" opacity="0.7"/>
<rect x="356.2" y="345.8" width="0.6" height="0.6" fill="#9a9a9a" opacity="0.7"/>
<rect x="346.1" y="362.3" width="0.6" height="0.6" fill="#9a9a9a" opacity="0.7"/>
<rect x="375.2" y="345.5" width="0.6" height="0.6" fill="#9a9a9a" opacity="0.7"/>
<rect x="342.5" y="383.7" width="0.6" height="0.6" fill="#9a9a9a" opacity="0.7"/>
<rect x="382.5" y="391.2" width="0.6" height="0.6" fill="#9a9a9a" opacity="0.7"/>
<rect x="349.1" y="346.8" width="0.6" height="0.6" fill="#9a9a9a" opacity="0.7"/>
<rect x="370.9" y="350.6" width="0.6" height="0.6" fill="#9a9a9a" opacity="0.7"/>
<rect x="347.3" y="401.1" width="0.6" height="0.6" fill="#9a9a9a" opacity="0.7"/>
<rect x="382.1" y="382.6" width="0.6" height="0.6" fill="#9a9a9a" opacity="0.7"/>
<rect x="371.3" y="402.7" width="0.6" height="0.6" fill="#9a9a9a" opacity="0.7"/>
<rect x="383.1" y="391.2" width="0.6" height="0.6" fill="#9a9a9a" opacity="0.7"/>
<rect x="375.2" y="399.8" width="0.6" height="0.6" fill="#9a9a9a" opacity="0.7"/>
<rect x="345.8" y="401.8" width="0.6" height="0.6" fill="#9a9a9a" opacity="0.7"/>
<rect x="379.8" y="393.7" width="0.6" height="0.6" fill="#9a9a9a" opacity="0.7"/>
<rect x="341.7" y="366.5" width="0.6" height="0.6" fill="#9a9a9a" opacity="0.7"/>
<rect x="372.4" y="344.0" width="0.6" height="0.6" fill="#9a9a9a" opacity="0.7"/>
<rect x="359.6" y="409.5" width="0.6" height="0.6" fill="#9a9a9a" opacity="0.7"/>
<rect x="348.9" y="407.3" width="0.6" height="0.6" fill="#9a9a9a" opacity="0.7"/>
<rect x="379.5" y="370.4" width="0.6" height="0.6" fill="#9a9a9a" opacity="0.7"/>
<rect x="370.9" y="404.7" width="0.6" height="0.6" fill="#9a9a9a" opacity="0.7"/>
<rect x="365.0" y="410.7" width="0.6" height="0.6" fill="#9a9a9a" opacity="0.7"/>
<rect x="347.8" y="362.0" width="0.6" height="0.6" fill="#9a9a9a" opacity="0.7"/>
<rect x="382.0" y="378.8" width="0.6" height="0.6" fill="#9a9a9a" opacity="0.7"/>
<rect x="349.3" y="402.8" width="0.6" height="0.6" fill="#9a9a9a" opacity="0.7"/>
<rect x="383.1" y="367.7" width="0.6" height="0.6" fill="#9a9a9a" opacity="0.7"/>
<rect x="342.7" y="374.6" width="0.6" height="0.6" fill="#9a9a9a" opacity="0.7"/>
<rect x="355.7" y="353.3" width="0.6" height="0.6" fill="#9a9a9a" opacity="0.7"/>
<rect x="380.5" y="356.5" width="0.6" height="0.6" fill="#9a9a9a" opacity="0.7"/>
<rect x="378.3" y="352.0" width="0.6" height="0.6" fill="#9a9a9a" opacity="0.7"/>
<rect x="348.3" y="397.9" width="0.6" height="0.6" fill="#9a9a9a" opacity="0.7"/>
<rect x="379.4" y="399.0" width="0.6" height="0.6" fill="#9a9a9a" opacity="0.7"/>
<rect x="378.2" y="388.6" width="0.6" height="0.6" fill="#9a9a9a" opacity="0.7"/>
<rect x="367.4" y="406.0" width="0.6" height="0.6" fill="#9a9a9a" opacity="0.7"/>
<rect x="354.2" y="401.3" width="0.6" height="0.6" fill="#9a9a9a" opacity="0.7"/>
<rect x="380.1" y="378.0" width="0.6" height="0.6" fill="#9a9a9a" opacity="0.7"/>
<rect x="378.0" y="396.7" width="0.6" height="0.6" fill="#9a9a9a" opacity="0.7"/>
<rect x="385.0" y="384.0" width="0.6" height="0.6" fill="#9a9a9a" opacity="0.7"/>
<rect x="350.1" y="359.1" width="0.6" height="0.6" fill="#9a9a9a" opacity="0.7"/>
<rect x="362.7" y="409.2" width="0.6" height="0.6" fill="#9a9a9a" opacity="0.7"/>
<path d="M368.13,348.32 C366.09,348.49 362.60,349.74 360.09,351.34 C357.57,352.93 354.67,356.08 353.05,357.87 C351.42,359.67 350.87,360.05 350.33,362.10 C349.79,364.14 349.83,367.63 349.83,370.14 C349.83,372.66 350.33,375.00 350.33,377.18 C350.33,379.36 349.41,381.51 349.83,383.22 C350.25,384.93 351.84,385.90 352.84,387.44 C353.85,388.98 354.86,390.79 355.86,392.47 C356.87,394.15 358.01,396.07 358.88,397.50 C359.75,398.92 360.35,400.85 361.09,401.02 C361.83,401.19 362.27,399.09 363.30,398.50 C364.34,397.92 365.99,398.34 367.33,397.50 C368.67,396.66 370.34,395.19 371.35,393.48 C372.36,391.77 372.77,389.79 373.36,387.24 C373.95,384.69 374.54,381.54 374.87,378.19 C375.21,374.84 375.46,370.98 375.37,367.13 C375.29,363.27 374.87,357.86 374.37,355.06 C373.86,352.26 373.40,351.45 372.36,350.33 C371.32,349.21 370.18,348.15 368.13,348.32 Z" fill="#0000ff"/>
<g filter="url(#bl)">
<path d="M365.11,352.04 C362.68,352.54 359.00,355.73 357.07,358.07 C355.14,360.42 354.05,362.94 353.55,366.12 C353.05,369.31 353.30,374.00 354.05,377.18 C354.81,380.37 356.23,383.05 358.07,385.23 C359.92,387.41 363.02,389.92 365.11,390.26 C367.21,390.59 369.39,389.42 370.65,387.24 C371.90,385.06 372.24,380.87 372.66,377.18 C373.08,373.50 373.33,368.80 373.16,365.11 C372.99,361.43 372.99,357.24 371.65,355.06 C370.31,352.88 367.55,351.54 365.11,352.04 Z" fill="#0050ff"/>
<path d="M364.61,353.55 C362.43,354.81 357.57,359.00 356.06,362.10 C354.55,365.20 355.06,369.14 355.56,372.15 C356.06,375.17 357.49,378.11 359.08,380.20 C360.67,382.30 363.10,384.56 365.11,384.73 C367.13,384.89 369.94,383.47 371.15,381.21 C372.36,378.94 372.27,374.67 372.36,371.15 C372.44,367.63 372.19,362.85 371.65,360.09 C371.12,357.32 370.31,355.64 369.14,354.55 C367.96,353.46 366.79,352.29 364.61,353.55 Z" fill="#00a8ff"/>
<path d="M364.11,354.55 C362.01,355.56 358.75,359.67 357.57,363.10 C356.40,366.54 355.98,371.99 357.07,375.17 C358.16,378.36 361.93,381.54 364.11,382.21 C366.29,382.88 368.89,381.54 370.14,379.19 C371.40,376.85 371.65,371.82 371.65,368.13 C371.65,364.44 371.40,359.33 370.14,357.07 C368.89,354.81 366.20,353.55 364.11,354.55 Z" fill="#00f4ff"/>
</g><g filter="url(#bl2)">
<path d="M363.61,356.57 C361.93,357.57 359.33,362.35 358.58,365.11 C357.82,367.88 358.24,370.98 359.08,373.16 C359.92,375.34 362.01,377.85 363.61,378.19 C365.20,378.52 367.63,377.02 368.63,375.17 C369.64,373.33 369.64,369.81 369.64,367.13 C369.64,364.44 369.64,360.84 368.63,359.08 C367.63,357.32 365.28,355.56 363.61,356.57 Z" fill="#00ff30"/>
<path d="M363.61,358.58 C362.52,359.42 360.17,363.61 360.09,366.12 C360.00,368.63 361.85,373.16 363.10,373.66 C364.36,374.17 367.04,371.23 367.63,369.14 C368.22,367.04 367.29,362.85 366.62,361.09 C365.95,359.33 364.70,357.74 363.61,358.58 Z" fill="#ffff00"/>
<path d="M364.01,358.68 C364.43,358.54 365.08,359.38 365.32,360.09 C365.55,360.79 365.22,361.98 365.42,362.90 C365.62,363.82 366.32,364.61 366.52,365.62 C366.72,366.62 366.86,367.88 366.62,368.94 C366.39,369.99 365.73,371.38 365.11,371.95 C364.49,372.52 363.61,372.69 362.90,372.36 C362.20,372.02 361.26,370.95 360.89,369.94 C360.52,368.94 360.49,367.38 360.69,366.32 C360.89,365.27 361.75,364.51 362.10,363.61 C362.45,362.70 362.48,361.71 362.80,360.89 C363.12,360.07 363.59,358.81 364.01,358.68 Z" fill="#ff8000"/>
<path d="M364.01,359.28 C364.26,359.28 364.71,359.73 364.81,360.29 C364.91,360.84 364.44,361.80 364.61,362.60 C364.78,363.40 365.58,364.14 365.82,365.11 C366.05,366.09 366.17,367.46 366.02,368.43 C365.87,369.41 365.38,370.43 364.91,370.95 C364.44,371.47 363.77,371.77 363.20,371.55 C362.63,371.33 361.81,370.46 361.49,369.64 C361.18,368.82 361.14,367.51 361.29,366.62 C361.44,365.73 362.08,365.03 362.40,364.31 C362.72,363.59 363.05,362.97 363.20,362.30 C363.35,361.63 363.17,360.79 363.30,360.29 C363.44,359.78 363.76,359.28 364.01,359.28 Z" fill="#ff0000"/>
</g>
<line x1="306.00" y1="331.00" x2="388.00" y2="331.00" stroke="#222" stroke-width="1.2"/>
<line x1="388.00" y1="331.00" x2="388.00" y2="411.50" stroke="#222" stroke-width="1.2"/>
<line x1="306.00" y1="330.50" x2="306.00" y2="412.20" stroke="#111" stroke-width="1.5"/>
<line x1="305.30" y1="411.50" x2="388.50" y2="411.50" stroke="#111" stroke-width="1.5"/>
<line x1="303.40" y1="338.30" x2="306.00" y2="338.30" stroke="#231f20" stroke-width="0.9"/>
<line x1="303.40" y1="358.60" x2="306.00" y2="358.60" stroke="#231f20" stroke-width="0.9"/>
<line x1="303.40" y1="379.90" x2="306.00" y2="379.90" stroke="#231f20" stroke-width="0.9"/>
<line x1="303.40" y1="393.40" x2="306.00" y2="393.40" stroke="#231f20" stroke-width="0.9"/>
<line x1="303.40" y1="407.60" x2="306.00" y2="407.60" stroke="#231f20" stroke-width="0.9"/>
<line x1="304.50" y1="352.49" x2="306.00" y2="352.49" stroke="#231f20" stroke-width="0.7"/>
<line x1="304.50" y1="348.91" x2="306.00" y2="348.91" stroke="#231f20" stroke-width="0.7"/>
<line x1="304.50" y1="346.38" x2="306.00" y2="346.38" stroke="#231f20" stroke-width="0.7"/>
<line x1="304.50" y1="344.41" x2="306.00" y2="344.41" stroke="#231f20" stroke-width="0.7"/>
<line x1="304.50" y1="342.80" x2="306.00" y2="342.80" stroke="#231f20" stroke-width="0.7"/>
<line x1="304.50" y1="341.44" x2="306.00" y2="341.44" stroke="#231f20" stroke-width="0.7"/>
<line x1="304.50" y1="340.27" x2="306.00" y2="340.27" stroke="#231f20" stroke-width="0.7"/>
<line x1="304.50" y1="339.23" x2="306.00" y2="339.23" stroke="#231f20" stroke-width="0.7"/>
<line x1="304.50" y1="373.49" x2="306.00" y2="373.49" stroke="#231f20" stroke-width="0.7"/>
<line x1="304.50" y1="369.74" x2="306.00" y2="369.74" stroke="#231f20" stroke-width="0.7"/>
<line x1="304.50" y1="367.08" x2="306.00" y2="367.08" stroke="#231f20" stroke-width="0.7"/>
<line x1="304.50" y1="365.01" x2="306.00" y2="365.01" stroke="#231f20" stroke-width="0.7"/>
<line x1="304.50" y1="363.33" x2="306.00" y2="363.33" stroke="#231f20" stroke-width="0.7"/>
<line x1="304.50" y1="361.90" x2="306.00" y2="361.90" stroke="#231f20" stroke-width="0.7"/>
<line x1="304.50" y1="360.66" x2="306.00" y2="360.66" stroke="#231f20" stroke-width="0.7"/>
<line x1="304.50" y1="359.57" x2="306.00" y2="359.57" stroke="#231f20" stroke-width="0.7"/>
<line x1="304.50" y1="385.00" x2="306.00" y2="385.00" stroke="#231f20" stroke-width="0.7"/>
<line x1="304.50" y1="388.50" x2="306.00" y2="388.50" stroke="#231f20" stroke-width="0.7"/>
<line x1="304.50" y1="391.20" x2="306.00" y2="391.20" stroke="#231f20" stroke-width="0.7"/>
<line x1="304.50" y1="395.50" x2="306.00" y2="395.50" stroke="#231f20" stroke-width="0.7"/>
<line x1="304.50" y1="398.20" x2="306.00" y2="398.20" stroke="#231f20" stroke-width="0.7"/>
<line x1="304.50" y1="402.50" x2="306.00" y2="402.50" stroke="#231f20" stroke-width="0.7"/>
<line x1="311.00" y1="411.50" x2="311.00" y2="414.10" stroke="#231f20" stroke-width="0.9"/>
<line x1="324.40" y1="411.50" x2="324.40" y2="414.10" stroke="#231f20" stroke-width="0.9"/>
<line x1="337.60" y1="411.50" x2="337.60" y2="414.10" stroke="#231f20" stroke-width="0.9"/>
<line x1="360.30" y1="411.50" x2="360.30" y2="414.10" stroke="#231f20" stroke-width="0.9"/>
<line x1="379.20" y1="411.50" x2="379.20" y2="414.10" stroke="#231f20" stroke-width="0.9"/>
<line x1="344.43" y1="411.50" x2="344.43" y2="413.00" stroke="#231f20" stroke-width="0.7"/>
<line x1="348.43" y1="411.50" x2="348.43" y2="413.00" stroke="#231f20" stroke-width="0.7"/>
<line x1="351.27" y1="411.50" x2="351.27" y2="413.00" stroke="#231f20" stroke-width="0.7"/>
<line x1="353.47" y1="411.50" x2="353.47" y2="413.00" stroke="#231f20" stroke-width="0.7"/>
<line x1="355.26" y1="411.50" x2="355.26" y2="413.00" stroke="#231f20" stroke-width="0.7"/>
<line x1="356.78" y1="411.50" x2="356.78" y2="413.00" stroke="#231f20" stroke-width="0.7"/>
<line x1="358.10" y1="411.50" x2="358.10" y2="413.00" stroke="#231f20" stroke-width="0.7"/>
<line x1="359.26" y1="411.50" x2="359.26" y2="413.00" stroke="#231f20" stroke-width="0.7"/>
<line x1="365.99" y1="411.50" x2="365.99" y2="413.00" stroke="#231f20" stroke-width="0.7"/>
<line x1="369.32" y1="411.50" x2="369.32" y2="413.00" stroke="#231f20" stroke-width="0.7"/>
<line x1="371.68" y1="411.50" x2="371.68" y2="413.00" stroke="#231f20" stroke-width="0.7"/>
<line x1="373.51" y1="411.50" x2="373.51" y2="413.00" stroke="#231f20" stroke-width="0.7"/>
<line x1="375.01" y1="411.50" x2="375.01" y2="413.00" stroke="#231f20" stroke-width="0.7"/>
<line x1="376.27" y1="411.50" x2="376.27" y2="413.00" stroke="#231f20" stroke-width="0.7"/>
<line x1="377.37" y1="411.50" x2="377.37" y2="413.00" stroke="#231f20" stroke-width="0.7"/>
<line x1="378.34" y1="411.50" x2="378.34" y2="413.00" stroke="#231f20" stroke-width="0.7"/>
<line x1="317.00" y1="411.50" x2="317.00" y2="413.00" stroke="#231f20" stroke-width="0.7"/>
<line x1="320.50" y1="411.50" x2="320.50" y2="413.00" stroke="#231f20" stroke-width="0.7"/>
<line x1="322.40" y1="411.50" x2="322.40" y2="413.00" stroke="#231f20" stroke-width="0.7"/>
<line x1="326.40" y1="411.50" x2="326.40" y2="413.00" stroke="#231f20" stroke-width="0.7"/>
<line x1="328.30" y1="411.50" x2="328.30" y2="413.00" stroke="#231f20" stroke-width="0.7"/>
<line x1="331.50" y1="411.50" x2="331.50" y2="413.00" stroke="#231f20" stroke-width="0.7"/>
<text x="299.63" y="340.70" font-size="6.8" text-anchor="end" stroke="#231f20" stroke-width="0.18" textLength="6.43" lengthAdjust="spacingAndGlyphs">10</text>
<text x="299.63" y="337.80" font-size="4.6" stroke="#231f20" stroke-width="0.18" textLength="2.17" lengthAdjust="spacingAndGlyphs">5</text>
<text x="299.63" y="361.00" font-size="6.8" text-anchor="end" stroke="#231f20" stroke-width="0.18" textLength="6.43" lengthAdjust="spacingAndGlyphs">10</text>
<text x="299.63" y="358.10" font-size="4.6" stroke="#231f20" stroke-width="0.18" textLength="2.17" lengthAdjust="spacingAndGlyphs">4</text>
<text x="299.63" y="382.30" font-size="6.8" text-anchor="end" stroke="#231f20" stroke-width="0.18" textLength="6.43" lengthAdjust="spacingAndGlyphs">10</text>
<text x="299.63" y="379.40" font-size="4.6" stroke="#231f20" stroke-width="0.18" textLength="2.17" lengthAdjust="spacingAndGlyphs">3</text>
<text x="301.80" y="395.80" font-size="6.8" text-anchor="end" stroke="#231f20" stroke-width="0.18" textLength="3.21" lengthAdjust="spacingAndGlyphs">0</text>
<text x="299.63" y="410.00" font-size="6.8" text-anchor="end" stroke="#231f20" stroke-width="0.18" textLength="9.80" lengthAdjust="spacingAndGlyphs">−10</text>
<text x="299.63" y="407.10" font-size="4.6" stroke="#231f20" stroke-width="0.18" textLength="2.17" lengthAdjust="spacingAndGlyphs">3</text>
<text x="305.51" y="423.30" font-size="6.8" stroke="#231f20" stroke-width="0.18" textLength="9.80" lengthAdjust="spacingAndGlyphs">−10</text>
<text x="315.31" y="420.40" font-size="4.6" stroke="#231f20" stroke-width="0.18" textLength="2.17" lengthAdjust="spacingAndGlyphs">3</text>
<text x="324.40" y="423.30" font-size="6.8" text-anchor="middle" stroke="#231f20" stroke-width="0.18" textLength="3.21" lengthAdjust="spacingAndGlyphs">0</text>
<text x="333.80" y="423.30" font-size="6.8" stroke="#231f20" stroke-width="0.18" textLength="6.43" lengthAdjust="spacingAndGlyphs">10</text>
<text x="340.23" y="420.40" font-size="4.6" stroke="#231f20" stroke-width="0.18" textLength="2.17" lengthAdjust="spacingAndGlyphs">3</text>
<text x="356.50" y="423.30" font-size="6.8" stroke="#231f20" stroke-width="0.18" textLength="6.43" lengthAdjust="spacingAndGlyphs">10</text>
<text x="362.93" y="420.40" font-size="4.6" stroke="#231f20" stroke-width="0.18" textLength="2.17" lengthAdjust="spacingAndGlyphs">4</text>
<text x="375.40" y="423.30" font-size="6.8" stroke="#231f20" stroke-width="0.18" textLength="6.43" lengthAdjust="spacingAndGlyphs">10</text>
<text x="381.83" y="420.40" font-size="4.6" stroke="#231f20" stroke-width="0.18" textLength="2.17" lengthAdjust="spacingAndGlyphs">5</text>
<text x="339.70" y="434.70" font-size="8.6" stroke="#231f20" stroke-width="0.18" textLength="13.30" lengthAdjust="spacingAndGlyphs">CD7</text>
<text x="285.60" y="371.70" font-size="9.6" text-anchor="middle" stroke="#231f20" stroke-width="0.18" textLength="17.00" lengthAdjust="spacingAndGlyphs" transform="rotate(-90 285.60 371.70)">CCR9</text>
<text x="379.30" y="15.40" font-size="11" fill="#000" font-weight="bold">C</text>
<line x1="408.70" y1="37.90" x2="408.70" y2="106.90" stroke="#231f20" stroke-width="1.3"/>
<line x1="406.10" y1="41.45" x2="408.70" y2="41.45" stroke="#231f20" stroke-width="1.0"/>
<text x="403.00" y="44.40" font-size="8.2" text-anchor="end" stroke="#231f20" stroke-width="0.18" textLength="12.31" lengthAdjust="spacingAndGlyphs">100</text>
<line x1="406.10" y1="54.42" x2="408.70" y2="54.42" stroke="#231f20" stroke-width="1.0"/>
<text x="403.00" y="57.37" font-size="8.2" text-anchor="end" stroke="#231f20" stroke-width="0.18" textLength="8.21" lengthAdjust="spacingAndGlyphs">80</text>
<line x1="406.10" y1="67.39" x2="408.70" y2="67.39" stroke="#231f20" stroke-width="1.0"/>
<text x="403.00" y="70.34" font-size="8.2" text-anchor="end" stroke="#231f20" stroke-width="0.18" textLength="8.21" lengthAdjust="spacingAndGlyphs">60</text>
<line x1="406.10" y1="80.36" x2="408.70" y2="80.36" stroke="#231f20" stroke-width="1.0"/>
<text x="403.00" y="83.31" font-size="8.2" text-anchor="end" stroke="#231f20" stroke-width="0.18" textLength="8.21" lengthAdjust="spacingAndGlyphs">40</text>
<line x1="406.10" y1="93.33" x2="408.70" y2="93.33" stroke="#231f20" stroke-width="1.0"/>
<text x="403.00" y="96.28" font-size="8.2" text-anchor="end" stroke="#231f20" stroke-width="0.18" textLength="8.21" lengthAdjust="spacingAndGlyphs">20</text>
<line x1="406.10" y1="106.30" x2="408.70" y2="106.30" stroke="#231f20" stroke-width="1.0"/>
<text x="403.00" y="109.25" font-size="8.2" text-anchor="end" stroke="#231f20" stroke-width="0.18" textLength="4.10" lengthAdjust="spacingAndGlyphs">0</text>
<line x1="408.10" y1="106.30" x2="513.00" y2="106.30" stroke="#231f20" stroke-width="1.3"/>
<line x1="415.60" y1="106.30" x2="415.60" y2="108.50" stroke="#231f20" stroke-width="1.0"/>
<line x1="430.75" y1="106.30" x2="430.75" y2="108.50" stroke="#231f20" stroke-width="1.0"/>
<line x1="445.90" y1="106.30" x2="445.90" y2="108.50" stroke="#231f20" stroke-width="1.0"/>
<line x1="461.05" y1="106.30" x2="461.05" y2="108.50" stroke="#231f20" stroke-width="1.0"/>
<line x1="476.20" y1="106.30" x2="476.20" y2="108.50" stroke="#231f20" stroke-width="1.0"/>
<line x1="491.35" y1="106.30" x2="491.35" y2="108.50" stroke="#231f20" stroke-width="1.0"/>
<line x1="506.50" y1="106.30" x2="506.50" y2="108.50" stroke="#231f20" stroke-width="1.0"/>
<text x="415.60" y="118.90" font-size="8.2" text-anchor="middle" stroke="#231f20" stroke-width="0.18" textLength="8.66" lengthAdjust="spacingAndGlyphs">27</text>
<text x="430.75" y="118.90" font-size="8.2" text-anchor="middle" stroke="#231f20" stroke-width="0.18" textLength="8.66" lengthAdjust="spacingAndGlyphs">41</text>
<text x="445.90" y="118.90" font-size="8.2" text-anchor="middle" stroke="#231f20" stroke-width="0.18" textLength="8.66" lengthAdjust="spacingAndGlyphs">57</text>
<text x="461.05" y="118.90" font-size="8.2" text-anchor="middle" stroke="#231f20" stroke-width="0.18" textLength="8.66" lengthAdjust="spacingAndGlyphs">72</text>
<text x="476.20" y="118.90" font-size="8.2" text-anchor="middle" stroke="#231f20" stroke-width="0.18" textLength="8.66" lengthAdjust="spacingAndGlyphs">96</text>
<text x="491.35" y="118.90" font-size="8.2" text-anchor="middle" stroke="#231f20" stroke-width="0.18" textLength="12.42" lengthAdjust="spacingAndGlyphs">110</text>
<text x="506.50" y="118.90" font-size="8.2" text-anchor="middle" stroke="#231f20" stroke-width="0.18" textLength="13.00" lengthAdjust="spacingAndGlyphs">124</text>
<text x="436.90" y="131.30" font-size="10" stroke="#231f20" stroke-width="0.18" textLength="48.50" lengthAdjust="spacingAndGlyphs">Days from CAR</text>
<text x="386.30" y="72.00" font-size="10" text-anchor="middle" stroke="#231f20" stroke-width="0.18" textLength="51.10" lengthAdjust="spacingAndGlyphs" transform="rotate(-90 386.30 72.00)">% Tumour in PB</text>
<polygon points="413.65,13.60 414.01,14.46 414.93,14.53 414.23,15.14 414.44,16.04 413.65,15.56 412.86,16.04 413.07,15.14 412.37,14.53 413.29,14.46" fill="#1a1a1a" stroke="#1a1a1a" stroke-width="0.25" stroke-linejoin="round"/>
<polygon points="417.15,13.60 417.51,14.46 418.43,14.53 417.73,15.14 417.94,16.04 417.15,15.56 416.36,16.04 416.57,15.14 415.87,14.53 416.79,14.46" fill="#1a1a1a" stroke="#1a1a1a" stroke-width="0.25" stroke-linejoin="round"/>
<path d="M411.50,21.70 V18.50 H420.00 V21.70" fill="none" stroke="#222" stroke-width="1.05"/>
<polygon points="418.50,23.60 418.86,24.46 419.78,24.53 419.08,25.14 419.29,26.04 418.50,25.56 417.71,26.04 417.92,25.14 417.22,24.53 418.14,24.46" fill="#1a1a1a" stroke="#1a1a1a" stroke-width="0.25" stroke-linejoin="round"/>
<path d="M416.40,31.80 V28.50 H420.20 V31.80" fill="none" stroke="#222" stroke-width="1.05"/>
<text x="413.70" y="37.22" font-size="7.4" text-anchor="middle" stroke="#231f20" stroke-width="0.18" textLength="7.03" lengthAdjust="spacingAndGlyphs">ns</text>
<path d="M411.40,42.00 V38.60 H415.50 V42.00" fill="none" stroke="#222" stroke-width="1.05"/>
<polygon points="428.80,13.60 429.16,14.46 430.08,14.53 429.38,15.14 429.59,16.04 428.80,15.56 428.01,16.04 428.22,15.14 427.52,14.53 428.44,14.46" fill="#1a1a1a" stroke="#1a1a1a" stroke-width="0.25" stroke-linejoin="round"/>
<polygon points="432.30,13.60 432.66,14.46 433.58,14.53 432.88,15.14 433.09,16.04 432.30,15.56 431.51,16.04 431.72,15.14 431.02,14.53 431.94,14.46" fill="#1a1a1a" stroke="#1a1a1a" stroke-width="0.25" stroke-linejoin="round"/>
<path d="M426.65,21.70 V18.50 H435.15 V21.70" fill="none" stroke="#222" stroke-width="1.05"/>
<polygon points="433.65,23.60 434.01,24.46 434.93,24.53 434.23,25.14 434.44,26.04 433.65,25.56 432.86,26.04 433.07,25.14 432.37,24.53 433.29,24.46" fill="#1a1a1a" stroke="#1a1a1a" stroke-width="0.25" stroke-linejoin="round"/>
<path d="M431.55,31.80 V28.50 H435.35 V31.80" fill="none" stroke="#222" stroke-width="1.05"/>
<text x="428.85" y="37.22" font-size="7.4" text-anchor="middle" stroke="#231f20" stroke-width="0.18" textLength="7.03" lengthAdjust="spacingAndGlyphs">ns</text>
<path d="M426.55,42.00 V38.60 H430.65 V42.00" fill="none" stroke="#222" stroke-width="1.05"/>
<polygon points="443.95,13.60 444.31,14.46 445.23,14.53 444.53,15.14 444.74,16.04 443.95,15.56 443.16,16.04 443.37,15.14 442.67,14.53 443.59,14.46" fill="#1a1a1a" stroke="#1a1a1a" stroke-width="0.25" stroke-linejoin="round"/>
<polygon points="447.45,13.60 447.81,14.46 448.73,14.53 448.03,15.14 448.24,16.04 447.45,15.56 446.66,16.04 446.87,15.14 446.17,14.53 447.09,14.46" fill="#1a1a1a" stroke="#1a1a1a" stroke-width="0.25" stroke-linejoin="round"/>
<path d="M441.80,21.70 V18.50 H450.30 V21.70" fill="none" stroke="#222" stroke-width="1.05"/>
<polygon points="448.80,23.60 449.16,24.46 450.08,24.53 449.38,25.14 449.59,26.04 448.80,25.56 448.01,26.04 448.22,25.14 447.52,24.53 448.44,24.46" fill="#1a1a1a" stroke="#1a1a1a" stroke-width="0.25" stroke-linejoin="round"/>
<path d="M446.70,31.80 V28.50 H450.50 V31.80" fill="none" stroke="#222" stroke-width="1.05"/>
<text x="444.00" y="37.22" font-size="7.4" text-anchor="middle" stroke="#231f20" stroke-width="0.18" textLength="7.03" lengthAdjust="spacingAndGlyphs">ns</text>
<path d="M441.70,42.00 V38.60 H445.80 V42.00" fill="none" stroke="#222" stroke-width="1.05"/>
<polygon points="459.10,13.60 459.46,14.46 460.38,14.53 459.68,15.14 459.89,16.04 459.10,15.56 458.31,16.04 458.52,15.14 457.82,14.53 458.74,14.46" fill="#1a1a1a" stroke="#1a1a1a" stroke-width="0.25" stroke-linejoin="round"/>
<polygon points="462.60,13.60 462.96,14.46 463.88,14.53 463.18,15.14 463.39,16.04 462.60,15.56 461.81,16.04 462.02,15.14 461.32,14.53 462.24,14.46" fill="#1a1a1a" stroke="#1a1a1a" stroke-width="0.25" stroke-linejoin="round"/>
<path d="M456.95,21.70 V18.50 H465.45 V21.70" fill="none" stroke="#222" stroke-width="1.05"/>
<polygon points="463.95,23.60 464.31,24.46 465.23,24.53 464.53,25.14 464.74,26.04 463.95,25.56 463.16,26.04 463.37,25.14 462.67,24.53 463.59,24.46" fill="#1a1a1a" stroke="#1a1a1a" stroke-width="0.25" stroke-linejoin="round"/>
<path d="M461.85,31.80 V28.50 H465.65 V31.80" fill="none" stroke="#222" stroke-width="1.05"/>
<text x="459.15" y="37.22" font-size="7.4" text-anchor="middle" stroke="#231f20" stroke-width="0.18" textLength="7.03" lengthAdjust="spacingAndGlyphs">ns</text>
<path d="M456.85,42.00 V38.60 H460.95 V42.00" fill="none" stroke="#222" stroke-width="1.05"/>
<polygon points="474.25,13.60 474.61,14.46 475.53,14.53 474.83,15.14 475.04,16.04 474.25,15.56 473.46,16.04 473.67,15.14 472.97,14.53 473.89,14.46" fill="#1a1a1a" stroke="#1a1a1a" stroke-width="0.25" stroke-linejoin="round"/>
<polygon points="477.75,13.60 478.11,14.46 479.03,14.53 478.33,15.14 478.54,16.04 477.75,15.56 476.96,16.04 477.17,15.14 476.47,14.53 477.39,14.46" fill="#1a1a1a" stroke="#1a1a1a" stroke-width="0.25" stroke-linejoin="round"/>
<path d="M472.10,21.70 V18.50 H480.60 V21.70" fill="none" stroke="#222" stroke-width="1.05"/>
<polygon points="479.10,23.60 479.46,24.46 480.38,24.53 479.68,25.14 479.89,26.04 479.10,25.56 478.31,26.04 478.52,25.14 477.82,24.53 478.74,24.46" fill="#1a1a1a" stroke="#1a1a1a" stroke-width="0.25" stroke-linejoin="round"/>
<path d="M477.00,31.80 V28.50 H480.80 V31.80" fill="none" stroke="#222" stroke-width="1.05"/>
<text x="474.30" y="37.22" font-size="7.4" text-anchor="middle" stroke="#231f20" stroke-width="0.18" textLength="7.03" lengthAdjust="spacingAndGlyphs">ns</text>
<path d="M472.00,42.00 V38.60 H476.10 V42.00" fill="none" stroke="#222" stroke-width="1.05"/>
<polygon points="489.40,13.60 489.76,14.46 490.68,14.53 489.98,15.14 490.19,16.04 489.40,15.56 488.61,16.04 488.82,15.14 488.12,14.53 489.04,14.46" fill="#1a1a1a" stroke="#1a1a1a" stroke-width="0.25" stroke-linejoin="round"/>
<polygon points="492.90,13.60 493.26,14.46 494.18,14.53 493.48,15.14 493.69,16.04 492.90,15.56 492.11,16.04 492.32,15.14 491.62,14.53 492.54,14.46" fill="#1a1a1a" stroke="#1a1a1a" stroke-width="0.25" stroke-linejoin="round"/>
<path d="M487.25,21.70 V18.50 H495.75 V21.70" fill="none" stroke="#222" stroke-width="1.05"/>
<polygon points="494.25,23.60 494.61,24.46 495.53,24.53 494.83,25.14 495.04,26.04 494.25,25.56 493.46,26.04 493.67,25.14 492.97,24.53 493.89,24.46" fill="#1a1a1a" stroke="#1a1a1a" stroke-width="0.25" stroke-linejoin="round"/>
<path d="M492.15,31.80 V28.50 H495.95 V31.80" fill="none" stroke="#222" stroke-width="1.05"/>
<text x="489.45" y="37.22" font-size="7.4" text-anchor="middle" stroke="#231f20" stroke-width="0.18" textLength="7.03" lengthAdjust="spacingAndGlyphs">ns</text>
<path d="M487.15,42.00 V38.60 H491.25 V42.00" fill="none" stroke="#222" stroke-width="1.05"/>
<polygon points="504.55,13.60 504.91,14.46 505.83,14.53 505.13,15.14 505.34,16.04 504.55,15.56 503.76,16.04 503.97,15.14 503.27,14.53 504.19,14.46" fill="#1a1a1a" stroke="#1a1a1a" stroke-width="0.25" stroke-linejoin="round"/>
<polygon points="508.05,13.60 508.41,14.46 509.33,14.53 508.63,15.14 508.84,16.04 508.05,15.56 507.26,16.04 507.47,15.14 506.77,14.53 507.69,14.46" fill="#1a1a1a" stroke="#1a1a1a" stroke-width="0.25" stroke-linejoin="round"/>
<path d="M502.40,21.70 V18.50 H510.90 V21.70" fill="none" stroke="#222" stroke-width="1.05"/>
<polygon points="509.40,23.60 509.76,24.46 510.68,24.53 509.98,25.14 510.19,26.04 509.40,25.56 508.61,26.04 508.82,25.14 508.12,24.53 509.04,24.46" fill="#1a1a1a" stroke="#1a1a1a" stroke-width="0.25" stroke-linejoin="round"/>
<path d="M507.30,31.80 V28.50 H511.10 V31.80" fill="none" stroke="#222" stroke-width="1.05"/>
<text x="504.60" y="37.22" font-size="7.4" text-anchor="middle" stroke="#231f20" stroke-width="0.18" textLength="7.03" lengthAdjust="spacingAndGlyphs">ns</text>
<path d="M502.30,42.00 V38.60 H506.40 V42.00" fill="none" stroke="#222" stroke-width="1.05"/>
<rect x="414.55" y="99.15" width="2.5" height="2.5" fill="#1fb24a"/>
<rect x="414.55" y="100.35" width="2.5" height="2.5" fill="#1fb24a"/>
<rect x="414.55" y="101.55" width="2.5" height="2.5" fill="#1fb24a"/>
<rect x="414.55" y="102.75" width="2.5" height="2.5" fill="#1fb24a"/>
<rect x="414.55" y="103.95" width="2.5" height="2.5" fill="#1fb24a"/>
<circle cx="411.50" cy="102.90" r="1.35" fill="#083f8a"/>
<circle cx="411.50" cy="103.60" r="1.35" fill="#083f8a"/>
<circle cx="411.50" cy="104.30" r="1.35" fill="#083f8a"/>
<polygon points="418.00,106.62 421.40,106.62 419.70,103.56" fill="#d5143c"/>
<rect x="429.70" y="97.25" width="2.5" height="2.5" fill="#1fb24a"/>
<rect x="429.70" y="98.55" width="2.5" height="2.5" fill="#1fb24a"/>
<rect x="429.70" y="99.75" width="2.5" height="2.5" fill="#1fb24a"/>
<rect x="429.70" y="101.25" width="2.5" height="2.5" fill="#1fb24a"/>
<rect x="429.70" y="102.95" width="2.5" height="2.5" fill="#1fb24a"/>
<circle cx="426.65" cy="98.50" r="1.35" fill="#083f8a"/>
<circle cx="426.65" cy="99.80" r="1.35" fill="#083f8a"/>
<circle cx="426.65" cy="101.70" r="1.35" fill="#083f8a"/>
<polygon points="433.15,106.62 436.55,106.62 434.85,103.56" fill="#d5143c"/>
<rect x="444.85" y="69.35" width="2.5" height="2.5" fill="#1fb24a"/>
<rect x="444.85" y="70.95" width="2.5" height="2.5" fill="#1fb24a"/>
<rect x="444.85" y="72.55" width="2.5" height="2.5" fill="#1fb24a"/>
<rect x="444.85" y="83.75" width="2.5" height="2.5" fill="#1fb24a"/>
<rect x="444.85" y="98.75" width="2.5" height="2.5" fill="#1fb24a"/>
<circle cx="441.80" cy="45.30" r="1.35" fill="#083f8a"/>
<circle cx="441.80" cy="68.10" r="1.35" fill="#083f8a"/>
<circle cx="441.80" cy="77.40" r="1.35" fill="#083f8a"/>
<circle cx="441.80" cy="91.60" r="1.35" fill="#083f8a"/>
<polygon points="448.30,106.62 451.70,106.62 450.00,103.56" fill="#d5143c"/>
<rect x="460.00" y="66.45" width="2.5" height="2.5" fill="#1fb24a"/>
<rect x="460.00" y="87.85" width="2.5" height="2.5" fill="#1fb24a"/>
<rect x="460.00" y="94.15" width="2.5" height="2.5" fill="#1fb24a"/>
<circle cx="456.95" cy="61.40" r="1.35" fill="#083f8a"/>
<circle cx="456.95" cy="79.70" r="1.35" fill="#083f8a"/>
<circle cx="456.95" cy="81.00" r="1.35" fill="#083f8a"/>
<polygon points="463.45,106.62 466.85,106.62 465.15,103.56" fill="#d5143c"/>
<rect x="475.15" y="67.45" width="2.5" height="2.5" fill="#1fb24a"/>
<rect x="475.15" y="84.05" width="2.5" height="2.5" fill="#1fb24a"/>
<rect x="475.15" y="104.75" width="2.5" height="2.5" fill="#1fb24a"/>
<circle cx="472.10" cy="63.30" r="1.35" fill="#083f8a"/>
<circle cx="472.10" cy="78.00" r="1.35" fill="#083f8a"/>
<circle cx="472.10" cy="103.30" r="1.35" fill="#083f8a"/>
<polygon points="478.60,106.62 482.00,106.62 480.30,103.56" fill="#d5143c"/>
<rect x="490.30" y="79.05" width="2.5" height="2.5" fill="#1fb24a"/>
<rect x="490.30" y="95.35" width="2.5" height="2.5" fill="#1fb24a"/>
<rect x="490.30" y="105.05" width="2.5" height="2.5" fill="#1fb24a"/>
<circle cx="487.25" cy="94.70" r="1.35" fill="#083f8a"/>
<circle cx="487.25" cy="95.80" r="1.35" fill="#083f8a"/>
<circle cx="487.25" cy="105.40" r="1.35" fill="#083f8a"/>
<polygon points="493.75,106.62 497.15,106.62 495.45,103.56" fill="#d5143c"/>
<rect x="505.45" y="59.55" width="2.5" height="2.5" fill="#1fb24a"/>
<rect x="505.45" y="90.65" width="2.5" height="2.5" fill="#1fb24a"/>
<rect x="505.45" y="105.05" width="2.5" height="2.5" fill="#1fb24a"/>
<circle cx="502.40" cy="91.20" r="1.35" fill="#083f8a"/>
<circle cx="502.40" cy="106.00" r="1.35" fill="#083f8a"/>
<polygon points="508.90,106.62 512.30,106.62 510.60,103.56" fill="#d5143c"/>
<polygon points="509.20,105.02 512.60,105.02 510.90,101.96" fill="#d5143c"/>
<line x1="440.10" y1="72.50" x2="443.70" y2="72.50" stroke="#083f8a" stroke-width="0.9"/>
<line x1="500.70" y1="98.50" x2="504.30" y2="98.50" stroke="#083f8a" stroke-width="0.9"/>
<line x1="444.30" y1="79.30" x2="447.90" y2="79.30" stroke="#1fb24a" stroke-width="0.9"/>
<text x="7.00" y="145.60" font-size="11" fill="#000" font-weight="bold">D</text>
<line x1="36.70" y1="156.30" x2="36.70" y2="241.20" stroke="#231f20" stroke-width="1.3"/>
<line x1="34.70" y1="240.60" x2="36.70" y2="240.60" stroke="#231f20" stroke-width="0.95"/>
<line x1="34.70" y1="236.96" x2="36.70" y2="236.96" stroke="#231f20" stroke-width="0.95"/>
<line x1="34.70" y1="233.32" x2="36.70" y2="233.32" stroke="#231f20" stroke-width="0.95"/>
<line x1="34.70" y1="229.68" x2="36.70" y2="229.68" stroke="#231f20" stroke-width="0.95"/>
<line x1="34.70" y1="226.04" x2="36.70" y2="226.04" stroke="#231f20" stroke-width="0.95"/>
<line x1="34.70" y1="222.40" x2="36.70" y2="222.40" stroke="#231f20" stroke-width="0.95"/>
<line x1="34.70" y1="218.76" x2="36.70" y2="218.76" stroke="#231f20" stroke-width="0.95"/>
<line x1="34.70" y1="215.12" x2="36.70" y2="215.12" stroke="#231f20" stroke-width="0.95"/>
<line x1="34.70" y1="211.48" x2="36.70" y2="211.48" stroke="#231f20" stroke-width="0.95"/>
<line x1="34.70" y1="207.84" x2="36.70" y2="207.84" stroke="#231f20" stroke-width="0.95"/>
<line x1="34.70" y1="204.20" x2="36.70" y2="204.20" stroke="#231f20" stroke-width="0.95"/>
<line x1="34.70" y1="200.56" x2="36.70" y2="200.56" stroke="#231f20" stroke-width="0.95"/>
<line x1="34.70" y1="196.92" x2="36.70" y2="196.92" stroke="#231f20" stroke-width="0.95"/>
<line x1="34.70" y1="193.28" x2="36.70" y2="193.28" stroke="#231f20" stroke-width="0.95"/>
<line x1="34.70" y1="189.64" x2="36.70" y2="189.64" stroke="#231f20" stroke-width="0.95"/>
<line x1="34.70" y1="186.00" x2="36.70" y2="186.00" stroke="#231f20" stroke-width="0.95"/>
<line x1="34.70" y1="182.36" x2="36.70" y2="182.36" stroke="#231f20" stroke-width="0.95"/>
<line x1="34.70" y1="178.72" x2="36.70" y2="178.72" stroke="#231f20" stroke-width="0.95"/>
<line x1="34.70" y1="175.08" x2="36.70" y2="175.08" stroke="#231f20" stroke-width="0.95"/>
<line x1="34.70" y1="171.44" x2="36.70" y2="171.44" stroke="#231f20" stroke-width="0.95"/>
<line x1="34.70" y1="167.80" x2="36.70" y2="167.80" stroke="#231f20" stroke-width="0.95"/>
<line x1="34.70" y1="164.16" x2="36.70" y2="164.16" stroke="#231f20" stroke-width="0.95"/>
<line x1="34.70" y1="160.52" x2="36.70" y2="160.52" stroke="#231f20" stroke-width="0.95"/>
<line x1="34.70" y1="156.88" x2="36.70" y2="156.88" stroke="#231f20" stroke-width="0.95"/>
<line x1="33.50" y1="167.80" x2="36.70" y2="167.80" stroke="#231f20" stroke-width="1.0"/>
<text x="30.80" y="170.70" font-size="8.2" text-anchor="end" stroke="#231f20" stroke-width="0.18" textLength="10.49" lengthAdjust="spacingAndGlyphs">1.0</text>
<line x1="33.50" y1="204.20" x2="36.70" y2="204.20" stroke="#231f20" stroke-width="1.0"/>
<text x="30.80" y="207.10" font-size="8.2" text-anchor="end" stroke="#231f20" stroke-width="0.18" textLength="10.49" lengthAdjust="spacingAndGlyphs">0.5</text>
<line x1="33.50" y1="240.60" x2="36.70" y2="240.60" stroke="#231f20" stroke-width="1.0"/>
<text x="30.80" y="243.50" font-size="8.2" text-anchor="end" stroke="#231f20" stroke-width="0.18" textLength="10.49" lengthAdjust="spacingAndGlyphs">0.0</text>
<line x1="36.10" y1="240.60" x2="155.00" y2="240.60" stroke="#231f20" stroke-width="1.3"/>
<line x1="36.70" y1="240.60" x2="36.70" y2="242.60" stroke="#231f20" stroke-width="0.95"/>
<line x1="40.55" y1="240.60" x2="40.55" y2="242.60" stroke="#231f20" stroke-width="0.95"/>
<line x1="44.41" y1="240.60" x2="44.41" y2="242.60" stroke="#231f20" stroke-width="0.95"/>
<line x1="48.26" y1="240.60" x2="48.26" y2="242.60" stroke="#231f20" stroke-width="0.95"/>
<line x1="52.11" y1="240.60" x2="52.11" y2="242.60" stroke="#231f20" stroke-width="0.95"/>
<line x1="55.96" y1="240.60" x2="55.96" y2="242.60" stroke="#231f20" stroke-width="0.95"/>
<line x1="59.81" y1="240.60" x2="59.81" y2="242.60" stroke="#231f20" stroke-width="0.95"/>
<line x1="63.67" y1="240.60" x2="63.67" y2="242.60" stroke="#231f20" stroke-width="0.95"/>
<line x1="67.52" y1="240.60" x2="67.52" y2="242.60" stroke="#231f20" stroke-width="0.95"/>
<line x1="71.37" y1="240.60" x2="71.37" y2="242.60" stroke="#231f20" stroke-width="0.95"/>
<line x1="75.22" y1="240.60" x2="75.22" y2="242.60" stroke="#231f20" stroke-width="0.95"/>
<line x1="79.08" y1="240.60" x2="79.08" y2="242.60" stroke="#231f20" stroke-width="0.95"/>
<line x1="82.93" y1="240.60" x2="82.93" y2="242.60" stroke="#231f20" stroke-width="0.95"/>
<line x1="86.78" y1="240.60" x2="86.78" y2="242.60" stroke="#231f20" stroke-width="0.95"/>
<line x1="90.63" y1="240.60" x2="90.63" y2="242.60" stroke="#231f20" stroke-width="0.95"/>
<line x1="94.49" y1="240.60" x2="94.49" y2="242.60" stroke="#231f20" stroke-width="0.95"/>
<line x1="98.34" y1="240.60" x2="98.34" y2="242.60" stroke="#231f20" stroke-width="0.95"/>
<line x1="102.19" y1="240.60" x2="102.19" y2="242.60" stroke="#231f20" stroke-width="0.95"/>
<line x1="106.04" y1="240.60" x2="106.04" y2="242.60" stroke="#231f20" stroke-width="0.95"/>
<line x1="109.90" y1="240.60" x2="109.90" y2="242.60" stroke="#231f20" stroke-width="0.95"/>
<line x1="113.75" y1="240.60" x2="113.75" y2="242.60" stroke="#231f20" stroke-width="0.95"/>
<line x1="117.60" y1="240.60" x2="117.60" y2="242.60" stroke="#231f20" stroke-width="0.95"/>
<line x1="121.45" y1="240.60" x2="121.45" y2="242.60" stroke="#231f20" stroke-width="0.95"/>
<line x1="125.31" y1="240.60" x2="125.31" y2="242.60" stroke="#231f20" stroke-width="0.95"/>
<line x1="129.16" y1="240.60" x2="129.16" y2="242.60" stroke="#231f20" stroke-width="0.95"/>
<line x1="133.01" y1="240.60" x2="133.01" y2="242.60" stroke="#231f20" stroke-width="0.95"/>
<line x1="136.86" y1="240.60" x2="136.86" y2="242.60" stroke="#231f20" stroke-width="0.95"/>
<line x1="140.72" y1="240.60" x2="140.72" y2="242.60" stroke="#231f20" stroke-width="0.95"/>
<line x1="144.57" y1="240.60" x2="144.57" y2="242.60" stroke="#231f20" stroke-width="0.95"/>
<line x1="148.42" y1="240.60" x2="148.42" y2="242.60" stroke="#231f20" stroke-width="0.95"/>
<line x1="152.27" y1="240.60" x2="152.27" y2="242.60" stroke="#231f20" stroke-width="0.95"/>
<line x1="36.60" y1="240.60" x2="36.60" y2="243.80" stroke="#231f20" stroke-width="1.0"/>
<text x="36.60" y="253.30" font-size="8.2" text-anchor="middle" stroke="#231f20" stroke-width="0.18" textLength="4.20" lengthAdjust="spacingAndGlyphs">0</text>
<line x1="75.12" y1="240.60" x2="75.12" y2="243.80" stroke="#231f20" stroke-width="1.0"/>
<text x="75.12" y="253.30" font-size="8.2" text-anchor="middle" stroke="#231f20" stroke-width="0.18" textLength="8.39" lengthAdjust="spacingAndGlyphs">50</text>
<line x1="113.65" y1="240.60" x2="113.65" y2="243.80" stroke="#231f20" stroke-width="1.0"/>
<text x="113.65" y="253.30" font-size="8.2" text-anchor="middle" stroke="#231f20" stroke-width="0.18" textLength="12.59" lengthAdjust="spacingAndGlyphs">100</text>
<line x1="152.17" y1="240.60" x2="152.17" y2="243.80" stroke="#231f20" stroke-width="1.0"/>
<text x="152.17" y="253.30" font-size="8.2" text-anchor="middle" stroke="#231f20" stroke-width="0.18" textLength="12.59" lengthAdjust="spacingAndGlyphs">150</text>
<text x="69.60" y="265.50" font-size="10" stroke="#231f20" stroke-width="0.18" textLength="48.40" lengthAdjust="spacingAndGlyphs">Days from CAR</text>
<text x="13.60" y="202.40" font-size="10" text-anchor="middle" stroke="#231f20" stroke-width="0.18" textLength="71.70" lengthAdjust="spacingAndGlyphs" transform="rotate(-90 13.60 202.40)">Probability of survival</text>
<path d="M115.88,186.00 H128.06 V204.20 H137.15" fill="none" stroke="#3dba4a" stroke-width="1.5"/>
<path d="M85.53,167.80 H137.15" fill="none" stroke="#d8274a" stroke-width="1.5"/>
<path d="M36.60,167.80 H85.53 V186.00 H115.88 V204.20 H128.06 V222.40 H137.15" fill="none" stroke="#1f5b9d" stroke-width="1.5"/>
<line x1="137.15" y1="166.60" x2="137.15" y2="169.00" stroke="#d8274a" stroke-width="0.9"/>
<line x1="137.15" y1="203.00" x2="137.15" y2="205.40" stroke="#3dba4a" stroke-width="0.9"/>
<line x1="137.15" y1="221.20" x2="137.15" y2="223.60" stroke="#1f5b9d" stroke-width="0.9"/>
<line x1="141.80" y1="196.20" x2="149.40" y2="196.20" stroke="#1f5b9d" stroke-width="1.3"/>
<line x1="145.60" y1="195.20" x2="145.60" y2="196.20" stroke="#1f5b9d" stroke-width="0.8"/>
<text x="152.50" y="198.90" font-size="8.2" fill="#1f5b9d" stroke="#1f5b9d" stroke-width="0.18" textLength="10.00" lengthAdjust="spacingAndGlyphs">NT</text>
<line x1="141.80" y1="206.50" x2="149.40" y2="206.50" stroke="#3dba4a" stroke-width="1.3"/>
<line x1="145.60" y1="205.50" x2="145.60" y2="206.50" stroke="#3dba4a" stroke-width="0.8"/>
<text x="152.50" y="209.20" font-size="8.2" fill="#3dba4a" stroke="#3dba4a" stroke-width="0.18" textLength="23.80" lengthAdjust="spacingAndGlyphs">CAR19</text>
<line x1="141.80" y1="217.20" x2="149.40" y2="217.20" stroke="#d8274a" stroke-width="1.3"/>
<line x1="145.60" y1="216.20" x2="145.60" y2="217.20" stroke="#d8274a" stroke-width="0.8"/>
<text x="152.50" y="219.90" font-size="8.2" fill="#d8274a" stroke="#d8274a" stroke-width="0.18" textLength="34.20" lengthAdjust="spacingAndGlyphs">CARCCR9</text>
<text x="168.60" y="179.70" font-size="8.2" stroke="#231f20" stroke-width="0.18" textLength="54.50" lengthAdjust="spacingAndGlyphs">Median survival</text>
<text x="185.30" y="189.40" font-size="8.2" stroke="#231f20" stroke-width="0.18" textLength="21.00" lengthAdjust="spacingAndGlyphs">(days)</text>
<text x="191.00" y="198.90" font-size="8.2" stroke="#231f20" stroke-width="0.18" textLength="12.20" lengthAdjust="spacingAndGlyphs">110</text>
<text x="191.00" y="209.20" font-size="8.2" stroke="#231f20" stroke-width="0.18" textLength="12.50" lengthAdjust="spacingAndGlyphs">124</text>
<text x="191.60" y="219.90" font-size="8.2" stroke="#231f20" stroke-width="0.18" textLength="9.80" lengthAdjust="spacingAndGlyphs">NR</text>
<text x="164.20" y="231.60" font-size="8.2" stroke="#231f20" stroke-width="0.18" textLength="29.50" lengthAdjust="spacingAndGlyphs">p = 0.04</text>
<text x="237.20" y="149.90" font-size="11" fill="#000" font-weight="bold">E</text>
<line x1="267.30" y1="159.60" x2="267.30" y2="241.30" stroke="#231f20" stroke-width="1.3"/>
<line x1="264.70" y1="163.45" x2="267.30" y2="163.45" stroke="#231f20" stroke-width="1.0"/>
<text x="262.30" y="166.40" font-size="8.2" text-anchor="end" stroke="#231f20" stroke-width="0.18" textLength="10.26" lengthAdjust="spacingAndGlyphs">2.5</text>
<line x1="264.70" y1="178.90" x2="267.30" y2="178.90" stroke="#231f20" stroke-width="1.0"/>
<text x="262.30" y="181.85" font-size="8.2" text-anchor="end" stroke="#231f20" stroke-width="0.18" textLength="10.26" lengthAdjust="spacingAndGlyphs">2.0</text>
<line x1="264.70" y1="194.35" x2="267.30" y2="194.35" stroke="#231f20" stroke-width="1.0"/>
<text x="262.30" y="197.30" font-size="8.2" text-anchor="end" stroke="#231f20" stroke-width="0.18" textLength="10.26" lengthAdjust="spacingAndGlyphs">1.5</text>
<line x1="264.70" y1="209.80" x2="267.30" y2="209.80" stroke="#231f20" stroke-width="1.0"/>
<text x="262.30" y="212.75" font-size="8.2" text-anchor="end" stroke="#231f20" stroke-width="0.18" textLength="10.26" lengthAdjust="spacingAndGlyphs">1.0</text>
<line x1="264.70" y1="225.25" x2="267.30" y2="225.25" stroke="#231f20" stroke-width="1.0"/>
<text x="262.30" y="228.20" font-size="8.2" text-anchor="end" stroke="#231f20" stroke-width="0.18" textLength="10.26" lengthAdjust="spacingAndGlyphs">0.5</text>
<line x1="264.70" y1="240.70" x2="267.30" y2="240.70" stroke="#231f20" stroke-width="1.0"/>
<text x="262.30" y="243.65" font-size="8.2" text-anchor="end" stroke="#231f20" stroke-width="0.18" textLength="10.26" lengthAdjust="spacingAndGlyphs">0.0</text>
<line x1="266.70" y1="240.70" x2="318.80" y2="240.70" stroke="#231f20" stroke-width="1.3"/>
<line x1="277.60" y1="240.70" x2="277.60" y2="242.90" stroke="#231f20" stroke-width="1.0"/>
<line x1="293.40" y1="240.70" x2="293.40" y2="242.90" stroke="#231f20" stroke-width="1.0"/>
<line x1="309.10" y1="240.70" x2="309.10" y2="242.90" stroke="#231f20" stroke-width="1.0"/>
<text x="244.40" y="201.20" font-size="10" text-anchor="middle" stroke="#231f20" stroke-width="0.18" textLength="53.20" lengthAdjust="spacingAndGlyphs" transform="rotate(-90 244.40 201.20)">Spleen mass (g)</text>
<text x="280.40" y="251.10" font-size="9.0" text-anchor="end" stroke="#231f20" stroke-width="0.18" textLength="9.48" lengthAdjust="spacingAndGlyphs" transform="rotate(-45 280.40 251.10)">NT</text>
<text x="296.20" y="251.10" font-size="9.0" text-anchor="end" stroke="#231f20" stroke-width="0.18" textLength="22.92" lengthAdjust="spacingAndGlyphs" transform="rotate(-45 296.20 251.10)">CAR19</text>
<text x="311.90" y="251.10" font-size="9.0" text-anchor="end" stroke="#231f20" stroke-width="0.18" textLength="19.36" lengthAdjust="spacingAndGlyphs" transform="rotate(-45 311.90 251.10)">CCR9</text>
<polygon points="291.35,147.80 291.76,148.79 292.82,148.87 292.01,149.57 292.26,150.60 291.35,150.05 290.44,150.60 290.69,149.57 289.88,148.87 290.94,148.79" fill="#1a1a1a" stroke="#1a1a1a" stroke-width="0.25" stroke-linejoin="round"/>
<polygon points="295.65,147.80 296.06,148.79 297.12,148.87 296.31,149.57 296.56,150.60 295.65,150.05 294.74,150.60 294.99,149.57 294.18,148.87 295.24,148.79" fill="#1a1a1a" stroke="#1a1a1a" stroke-width="0.25" stroke-linejoin="round"/>
<path d="M277.60,158.80 V154.30 H309.20 V158.80" fill="none" stroke="#222" stroke-width="1.05"/>
<path d="M277.60,175.40 V171.50 H291.90 V175.40" fill="none" stroke="#222" stroke-width="1.05"/>
<path d="M294.70,175.40 V171.50 H309.20 V175.40" fill="none" stroke="#222" stroke-width="1.05"/>
<text x="284.70" y="167.59" font-size="9.2" text-anchor="middle" stroke="#231f20" stroke-width="0.18" textLength="9.04" lengthAdjust="spacingAndGlyphs">ns</text>
<polygon points="301.90,164.90 302.31,165.89 303.37,165.97 302.56,166.67 302.81,167.70 301.90,167.15 300.99,167.70 301.24,166.67 300.43,165.97 301.49,165.89" fill="#1a1a1a" stroke="#1a1a1a" stroke-width="0.25" stroke-linejoin="round"/>
<circle cx="278.00" cy="180.40" r="1.55" fill="#083f8a"/>
<circle cx="278.00" cy="191.50" r="1.55" fill="#083f8a"/>
<circle cx="278.00" cy="203.20" r="1.55" fill="#083f8a"/>
<circle cx="278.00" cy="206.50" r="1.55" fill="#083f8a"/>
<line x1="273.00" y1="197.60" x2="283.20" y2="197.60" stroke="#083f8a" stroke-width="1.0"/>
<circle cx="289.60" cy="188.40" r="1.55" fill="#1fb24a"/>
<circle cx="297.00" cy="188.40" r="1.55" fill="#1fb24a"/>
<circle cx="293.50" cy="200.40" r="1.55" fill="#1fb24a"/>
<circle cx="293.30" cy="235.40" r="1.55" fill="#1fb24a"/>
<line x1="288.10" y1="194.20" x2="298.50" y2="194.20" stroke="#1fb24a" stroke-width="1.0"/>
<circle cx="308.70" cy="234.40" r="1.55" fill="#d5143c"/>
<circle cx="304.80" cy="239.80" r="1.55" fill="#d5143c"/>
<circle cx="308.70" cy="239.80" r="1.55" fill="#d5143c"/>
<circle cx="312.50" cy="239.20" r="1.55" fill="#d5143c"/>
<line x1="304.20" y1="239.00" x2="313.20" y2="239.00" stroke="#d5143c" stroke-width="1.0"/>
<text x="332.60" y="149.90" font-size="11" fill="#000" font-weight="bold">F</text>
<line x1="364.80" y1="163.50" x2="364.80" y2="240.90" stroke="#231f20" stroke-width="1.3"/>
<line x1="362.20" y1="167.62" x2="364.80" y2="167.62" stroke="#231f20" stroke-width="1.0"/>
<text x="358.40" y="170.58" font-size="8.2" text-anchor="end" stroke="#231f20" stroke-width="0.18" textLength="12.31" lengthAdjust="spacingAndGlyphs">150</text>
<line x1="362.20" y1="191.85" x2="364.80" y2="191.85" stroke="#231f20" stroke-width="1.0"/>
<text x="358.40" y="194.80" font-size="8.2" text-anchor="end" stroke="#231f20" stroke-width="0.18" textLength="12.31" lengthAdjust="spacingAndGlyphs">100</text>
<line x1="362.20" y1="216.08" x2="364.80" y2="216.08" stroke="#231f20" stroke-width="1.0"/>
<text x="358.40" y="219.03" font-size="8.2" text-anchor="end" stroke="#231f20" stroke-width="0.18" textLength="8.21" lengthAdjust="spacingAndGlyphs">50</text>
<line x1="362.20" y1="240.30" x2="364.80" y2="240.30" stroke="#231f20" stroke-width="1.0"/>
<text x="358.40" y="243.25" font-size="8.2" text-anchor="end" stroke="#231f20" stroke-width="0.18" textLength="4.10" lengthAdjust="spacingAndGlyphs">0</text>
<line x1="364.20" y1="240.30" x2="412.80" y2="240.30" stroke="#231f20" stroke-width="1.3"/>
<line x1="374.30" y1="240.30" x2="374.30" y2="242.50" stroke="#231f20" stroke-width="1.0"/>
<line x1="389.30" y1="240.30" x2="389.30" y2="242.50" stroke="#231f20" stroke-width="1.0"/>
<line x1="404.30" y1="240.30" x2="404.30" y2="242.50" stroke="#231f20" stroke-width="1.0"/>
<text x="340.30" y="204.70" font-size="10" text-anchor="middle" stroke="#231f20" stroke-width="0.18" textLength="70.60" lengthAdjust="spacingAndGlyphs" transform="rotate(-90 340.30 204.70)">Tumour (% in spleen)</text>
<text x="377.10" y="250.70" font-size="9.0" text-anchor="end" stroke="#231f20" stroke-width="0.18" textLength="9.48" lengthAdjust="spacingAndGlyphs" transform="rotate(-45 377.10 250.70)">NT</text>
<text x="392.10" y="250.70" font-size="9.0" text-anchor="end" stroke="#231f20" stroke-width="0.18" textLength="22.92" lengthAdjust="spacingAndGlyphs" transform="rotate(-45 392.10 250.70)">CAR19</text>
<text x="407.10" y="250.70" font-size="9.0" text-anchor="end" stroke="#231f20" stroke-width="0.18" textLength="19.36" lengthAdjust="spacingAndGlyphs" transform="rotate(-45 407.10 250.70)">CCR9</text>
<path d="M374.30,171.60 V167.70 H404.30 V171.60" fill="none" stroke="#222" stroke-width="1.05"/>
<text x="389.30" y="163.89" font-size="9.2" text-anchor="middle" stroke="#231f20" stroke-width="0.18" textLength="9.04" lengthAdjust="spacingAndGlyphs">ns</text>
<path d="M374.30,187.60 V183.70 H388.20 V187.60" fill="none" stroke="#222" stroke-width="1.05"/>
<path d="M390.70,187.60 V183.70 H404.30 V187.60" fill="none" stroke="#222" stroke-width="1.05"/>
<text x="381.40" y="180.29" font-size="9.2" text-anchor="middle" stroke="#231f20" stroke-width="0.18" textLength="9.04" lengthAdjust="spacingAndGlyphs">ns</text>
<text x="397.40" y="180.29" font-size="9.2" text-anchor="middle" stroke="#231f20" stroke-width="0.18" textLength="9.04" lengthAdjust="spacingAndGlyphs">ns</text>
<circle cx="374.30" cy="192.00" r="1.55" fill="#083f8a"/>
<circle cx="372.00" cy="195.90" r="1.55" fill="#083f8a"/>
<circle cx="377.70" cy="196.80" r="1.55" fill="#083f8a"/>
<circle cx="374.30" cy="208.80" r="1.55" fill="#083f8a"/>
<line x1="370.00" y1="196.30" x2="378.60" y2="196.30" stroke="#083f8a" stroke-width="1.0"/>
<circle cx="389.30" cy="192.40" r="1.55" fill="#1fb24a"/>
<circle cx="389.30" cy="196.30" r="1.55" fill="#1fb24a"/>
<circle cx="389.30" cy="230.00" r="1.55" fill="#1fb24a"/>
<circle cx="389.30" cy="240.00" r="1.55" fill="#1fb24a"/>
<line x1="385.70" y1="213.20" x2="394.50" y2="213.20" stroke="#1fb24a" stroke-width="1.0"/>
<circle cx="404.30" cy="196.70" r="1.55" fill="#d5143c"/>
<circle cx="400.30" cy="240.00" r="1.55" fill="#d5143c"/>
<circle cx="404.30" cy="240.00" r="1.55" fill="#d5143c"/>
<circle cx="408.40" cy="240.00" r="1.55" fill="#d5143c"/>
<text x="427.40" y="149.80" font-size="11" fill="#000" font-weight="bold">G</text>
<line x1="460.00" y1="156.80" x2="460.00" y2="241.50" stroke="#231f20" stroke-width="1.3"/>
<line x1="457.40" y1="161.20" x2="460.00" y2="161.20" stroke="#231f20" stroke-width="1.0"/>
<text x="454.50" y="164.15" font-size="8.2" text-anchor="end" stroke="#231f20" stroke-width="0.18" textLength="12.31" lengthAdjust="spacingAndGlyphs">100</text>
<line x1="457.40" y1="177.14" x2="460.00" y2="177.14" stroke="#231f20" stroke-width="1.0"/>
<text x="454.50" y="180.09" font-size="8.2" text-anchor="end" stroke="#231f20" stroke-width="0.18" textLength="8.21" lengthAdjust="spacingAndGlyphs">80</text>
<line x1="457.40" y1="193.08" x2="460.00" y2="193.08" stroke="#231f20" stroke-width="1.0"/>
<text x="454.50" y="196.03" font-size="8.2" text-anchor="end" stroke="#231f20" stroke-width="0.18" textLength="8.21" lengthAdjust="spacingAndGlyphs">60</text>
<line x1="457.40" y1="209.02" x2="460.00" y2="209.02" stroke="#231f20" stroke-width="1.0"/>
<text x="454.50" y="211.97" font-size="8.2" text-anchor="end" stroke="#231f20" stroke-width="0.18" textLength="8.21" lengthAdjust="spacingAndGlyphs">40</text>
<line x1="457.40" y1="224.96" x2="460.00" y2="224.96" stroke="#231f20" stroke-width="1.0"/>
<text x="454.50" y="227.91" font-size="8.2" text-anchor="end" stroke="#231f20" stroke-width="0.18" textLength="8.21" lengthAdjust="spacingAndGlyphs">20</text>
<line x1="457.40" y1="240.90" x2="460.00" y2="240.90" stroke="#231f20" stroke-width="1.0"/>
<text x="454.50" y="243.85" font-size="8.2" text-anchor="end" stroke="#231f20" stroke-width="0.18" textLength="4.10" lengthAdjust="spacingAndGlyphs">0</text>
<line x1="459.40" y1="240.90" x2="512.80" y2="240.90" stroke="#231f20" stroke-width="1.3"/>
<line x1="470.70" y1="240.90" x2="470.70" y2="243.10" stroke="#231f20" stroke-width="1.0"/>
<line x1="486.60" y1="240.90" x2="486.60" y2="243.10" stroke="#231f20" stroke-width="1.0"/>
<line x1="502.30" y1="240.90" x2="502.30" y2="243.10" stroke="#231f20" stroke-width="1.0"/>
<text x="435.50" y="200.80" font-size="10" text-anchor="middle" stroke="#231f20" stroke-width="0.18" textLength="73.60" lengthAdjust="spacingAndGlyphs" transform="rotate(-90 435.50 200.80)">Tumour (% in marrow)</text>
<text x="473.50" y="251.30" font-size="9.0" text-anchor="end" stroke="#231f20" stroke-width="0.18" textLength="9.48" lengthAdjust="spacingAndGlyphs" transform="rotate(-45 473.50 251.30)">NT</text>
<text x="489.40" y="251.30" font-size="9.0" text-anchor="end" stroke="#231f20" stroke-width="0.18" textLength="22.92" lengthAdjust="spacingAndGlyphs" transform="rotate(-45 489.40 251.30)">CAR19</text>
<text x="505.10" y="251.30" font-size="9.0" text-anchor="end" stroke="#231f20" stroke-width="0.18" textLength="19.36" lengthAdjust="spacingAndGlyphs" transform="rotate(-45 505.10 251.30)">CCR9</text>
<circle cx="470.70" cy="181.10" r="1.55" fill="#083f8a"/>
<circle cx="470.70" cy="210.30" r="1.55" fill="#083f8a"/>
<line x1="465.40" y1="195.70" x2="475.80" y2="195.70" stroke="#083f8a" stroke-width="1.0"/>
<circle cx="486.60" cy="168.20" r="1.55" fill="#1fb24a"/>
<circle cx="486.60" cy="187.00" r="1.55" fill="#1fb24a"/>
<circle cx="486.60" cy="240.70" r="1.55" fill="#1fb24a"/>
<line x1="481.60" y1="187.00" x2="491.60" y2="187.00" stroke="#1fb24a" stroke-width="1.0"/>
<circle cx="502.30" cy="210.80" r="1.55" fill="#d5143c"/>
<circle cx="498.00" cy="240.70" r="1.55" fill="#d5143c"/>
<circle cx="502.30" cy="240.70" r="1.55" fill="#d5143c"/>
<circle cx="506.70" cy="240.70" r="1.55" fill="#d5143c"/>
<text x="396.50" y="293.20" font-size="11" fill="#000" font-weight="bold">J</text>
<line x1="427.50" y1="329.20" x2="427.50" y2="412.50" stroke="#231f20" stroke-width="1.3"/>
<line x1="424.90" y1="332.70" x2="427.50" y2="332.70" stroke="#231f20" stroke-width="1.0"/>
<text x="421.80" y="335.65" font-size="8.2" text-anchor="end" stroke="#231f20" stroke-width="0.18" textLength="12.31" lengthAdjust="spacingAndGlyphs">100</text>
<line x1="424.90" y1="348.54" x2="427.50" y2="348.54" stroke="#231f20" stroke-width="1.0"/>
<text x="421.80" y="351.49" font-size="8.2" text-anchor="end" stroke="#231f20" stroke-width="0.18" textLength="8.21" lengthAdjust="spacingAndGlyphs">80</text>
<line x1="424.90" y1="364.38" x2="427.50" y2="364.38" stroke="#231f20" stroke-width="1.0"/>
<text x="421.80" y="367.33" font-size="8.2" text-anchor="end" stroke="#231f20" stroke-width="0.18" textLength="8.21" lengthAdjust="spacingAndGlyphs">60</text>
<line x1="424.90" y1="380.22" x2="427.50" y2="380.22" stroke="#231f20" stroke-width="1.0"/>
<text x="421.80" y="383.17" font-size="8.2" text-anchor="end" stroke="#231f20" stroke-width="0.18" textLength="8.21" lengthAdjust="spacingAndGlyphs">40</text>
<line x1="424.90" y1="396.06" x2="427.50" y2="396.06" stroke="#231f20" stroke-width="1.0"/>
<text x="421.80" y="399.01" font-size="8.2" text-anchor="end" stroke="#231f20" stroke-width="0.18" textLength="8.21" lengthAdjust="spacingAndGlyphs">20</text>
<line x1="424.90" y1="411.90" x2="427.50" y2="411.90" stroke="#231f20" stroke-width="1.0"/>
<text x="421.80" y="414.85" font-size="8.2" text-anchor="end" stroke="#231f20" stroke-width="0.18" textLength="4.10" lengthAdjust="spacingAndGlyphs">0</text>
<line x1="426.90" y1="411.90" x2="513.70" y2="411.90" stroke="#231f20" stroke-width="1.3"/>
<line x1="434.00" y1="411.90" x2="434.00" y2="414.10" stroke="#231f20" stroke-width="1.0"/>
<line x1="448.40" y1="411.90" x2="448.40" y2="414.10" stroke="#231f20" stroke-width="1.0"/>
<line x1="462.80" y1="411.90" x2="462.80" y2="414.10" stroke="#231f20" stroke-width="1.0"/>
<line x1="477.20" y1="411.90" x2="477.20" y2="414.10" stroke="#231f20" stroke-width="1.0"/>
<line x1="492.30" y1="411.90" x2="492.30" y2="414.10" stroke="#231f20" stroke-width="1.0"/>
<line x1="506.70" y1="411.90" x2="506.70" y2="414.10" stroke="#231f20" stroke-width="1.0"/>
<text x="434.00" y="424.00" font-size="8.2" text-anchor="middle" stroke="#231f20" stroke-width="0.18" textLength="8.66" lengthAdjust="spacingAndGlyphs">14</text>
<text x="448.40" y="424.00" font-size="8.2" text-anchor="middle" stroke="#231f20" stroke-width="0.18" textLength="8.66" lengthAdjust="spacingAndGlyphs">22</text>
<text x="462.80" y="424.00" font-size="8.2" text-anchor="middle" stroke="#231f20" stroke-width="0.18" textLength="8.66" lengthAdjust="spacingAndGlyphs">28</text>
<text x="477.20" y="424.00" font-size="8.2" text-anchor="middle" stroke="#231f20" stroke-width="0.18" textLength="8.66" lengthAdjust="spacingAndGlyphs">36</text>
<text x="492.30" y="424.00" font-size="8.2" text-anchor="middle" stroke="#231f20" stroke-width="0.18" textLength="8.66" lengthAdjust="spacingAndGlyphs">42</text>
<text x="506.70" y="424.00" font-size="8.2" text-anchor="middle" stroke="#231f20" stroke-width="0.18" textLength="8.66" lengthAdjust="spacingAndGlyphs">54</text>
<text x="447.50" y="435.40" font-size="10" stroke="#231f20" stroke-width="0.18" textLength="48.50" lengthAdjust="spacingAndGlyphs">Days from CAR</text>
<text x="403.20" y="372.80" font-size="10" text-anchor="middle" stroke="#231f20" stroke-width="0.18" textLength="53.10" lengthAdjust="spacingAndGlyphs" transform="rotate(-90 403.20 372.80)">% Tumour in PB</text>
<text x="447.30" y="286.39" font-size="9.2" text-anchor="middle" stroke="#231f20" stroke-width="0.18" textLength="9.04" lengthAdjust="spacingAndGlyphs">ns</text>
<polygon points="458.75,282.60 459.16,283.59 460.22,283.67 459.41,284.37 459.66,285.40 458.75,284.85 457.84,285.40 458.09,284.37 457.28,283.67 458.34,283.59" fill="#1a1a1a" stroke="#1a1a1a" stroke-width="0.25" stroke-linejoin="round"/>
<polygon points="463.05,282.60 463.46,283.59 464.52,283.67 463.71,284.37 463.96,285.40 463.05,284.85 462.14,285.40 462.39,284.37 461.58,283.67 462.64,283.59" fill="#1a1a1a" stroke="#1a1a1a" stroke-width="0.25" stroke-linejoin="round"/>
<polygon points="467.35,282.60 467.76,283.59 468.82,283.67 468.01,284.37 468.26,285.40 467.35,284.85 466.44,285.40 466.69,284.37 465.88,283.67 466.94,283.59" fill="#1a1a1a" stroke="#1a1a1a" stroke-width="0.25" stroke-linejoin="round"/>
<polygon points="471.65,282.60 472.06,283.59 473.12,283.67 472.31,284.37 472.56,285.40 471.65,284.85 470.74,285.40 470.99,284.37 470.18,283.67 471.24,283.59" fill="#1a1a1a" stroke="#1a1a1a" stroke-width="0.25" stroke-linejoin="round"/>
<text x="432.50" y="303.69" font-size="9.2" text-anchor="middle" stroke="#231f20" stroke-width="0.18" textLength="9.04" lengthAdjust="spacingAndGlyphs">ns</text>
<polygon points="444.35,299.90 444.76,300.89 445.82,300.97 445.01,301.67 445.26,302.70 444.35,302.15 443.44,302.70 443.69,301.67 442.88,300.97 443.94,300.89" fill="#1a1a1a" stroke="#1a1a1a" stroke-width="0.25" stroke-linejoin="round"/>
<polygon points="448.65,299.90 449.06,300.89 450.12,300.97 449.31,301.67 449.56,302.70 448.65,302.15 447.74,302.70 447.99,301.67 447.18,300.97 448.24,300.89" fill="#1a1a1a" stroke="#1a1a1a" stroke-width="0.25" stroke-linejoin="round"/>
<polygon points="452.95,299.90 453.36,300.89 454.42,300.97 453.61,301.67 453.86,302.70 452.95,302.15 452.04,302.70 452.29,301.67 451.48,300.97 452.54,300.89" fill="#1a1a1a" stroke="#1a1a1a" stroke-width="0.25" stroke-linejoin="round"/>
<polygon points="457.25,299.90 457.66,300.89 458.72,300.97 457.91,301.67 458.16,302.70 457.25,302.15 456.34,302.70 456.59,301.67 455.78,300.97 456.84,300.89" fill="#1a1a1a" stroke="#1a1a1a" stroke-width="0.25" stroke-linejoin="round"/>
<polygon points="472.55,299.90 472.96,300.89 474.02,300.97 473.21,301.67 473.46,302.70 472.55,302.15 471.64,302.70 471.89,301.67 471.08,300.97 472.14,300.89" fill="#1a1a1a" stroke="#1a1a1a" stroke-width="0.25" stroke-linejoin="round"/>
<polygon points="476.85,299.90 477.26,300.89 478.32,300.97 477.51,301.67 477.76,302.70 476.85,302.15 475.94,302.70 476.19,301.67 475.38,300.97 476.44,300.89" fill="#1a1a1a" stroke="#1a1a1a" stroke-width="0.25" stroke-linejoin="round"/>
<polygon points="481.15,299.90 481.56,300.89 482.62,300.97 481.81,301.67 482.06,302.70 481.15,302.15 480.24,302.70 480.49,301.67 479.68,300.97 480.74,300.89" fill="#1a1a1a" stroke="#1a1a1a" stroke-width="0.25" stroke-linejoin="round"/>
<polygon points="485.45,299.90 485.86,300.89 486.92,300.97 486.11,301.67 486.36,302.70 485.45,302.15 484.54,302.70 484.79,301.67 483.98,300.97 485.04,300.89" fill="#1a1a1a" stroke="#1a1a1a" stroke-width="0.25" stroke-linejoin="round"/>
<polygon points="429.35,318.20 429.76,319.19 430.82,319.27 430.01,319.97 430.26,321.00 429.35,320.45 428.44,321.00 428.69,319.97 427.88,319.27 428.94,319.19" fill="#1a1a1a" stroke="#1a1a1a" stroke-width="0.25" stroke-linejoin="round"/>
<polygon points="433.65,318.20 434.06,319.19 435.12,319.27 434.31,319.97 434.56,321.00 433.65,320.45 432.74,321.00 432.99,319.97 432.18,319.27 433.24,319.19" fill="#1a1a1a" stroke="#1a1a1a" stroke-width="0.25" stroke-linejoin="round"/>
<polygon points="437.95,318.20 438.36,319.19 439.42,319.27 438.61,319.97 438.86,321.00 437.95,320.45 437.04,321.00 437.29,319.97 436.48,319.27 437.54,319.19" fill="#1a1a1a" stroke="#1a1a1a" stroke-width="0.25" stroke-linejoin="round"/>
<polygon points="442.25,318.20 442.66,319.19 443.72,319.27 442.91,319.97 443.16,321.00 442.25,320.45 441.34,321.00 441.59,319.97 440.78,319.27 441.84,319.19" fill="#1a1a1a" stroke="#1a1a1a" stroke-width="0.25" stroke-linejoin="round"/>
<text x="461.30" y="321.99" font-size="9.2" text-anchor="middle" stroke="#231f20" stroke-width="0.18" textLength="9.04" lengthAdjust="spacingAndGlyphs">ns</text>
<text x="475.80" y="321.99" font-size="9.2" text-anchor="middle" stroke="#231f20" stroke-width="0.18" textLength="9.04" lengthAdjust="spacingAndGlyphs">ns</text>
<path d="M444.40,295.20 V290.80 H449.20 V295.20" fill="none" stroke="#222" stroke-width="1.05"/>
<path d="M462.70,295.20 V290.80 H467.70 V295.20" fill="none" stroke="#222" stroke-width="1.05"/>
<path d="M429.20,312.50 V307.70 H434.40 V312.50" fill="none" stroke="#222" stroke-width="1.05"/>
<path d="M448.30,312.50 V307.70 H453.10 V312.50" fill="none" stroke="#222" stroke-width="1.05"/>
<path d="M477.30,312.50 V307.70 H482.50 V312.50" fill="none" stroke="#222" stroke-width="1.05"/>
<path d="M433.50,329.80 V325.00 H438.70 V329.80" fill="none" stroke="#222" stroke-width="1.05"/>
<path d="M458.80,329.80 V325.00 H463.80 V329.80" fill="none" stroke="#222" stroke-width="1.05"/>
<path d="M473.30,329.80 V325.00 H478.10 V329.80" fill="none" stroke="#222" stroke-width="1.05"/>
<rect x="432.65" y="349.55" width="2.5" height="2.5" fill="#1fb24a"/>
<rect x="432.65" y="350.85" width="2.5" height="2.5" fill="#1fb24a"/>
<rect x="432.65" y="354.35" width="2.5" height="2.5" fill="#1fb24a"/>
<rect x="447.15" y="339.75" width="2.5" height="2.5" fill="#1fb24a"/>
<rect x="447.15" y="341.25" width="2.5" height="2.5" fill="#1fb24a"/>
<rect x="461.75" y="335.25" width="2.5" height="2.5" fill="#1fb24a"/>
<rect x="461.75" y="336.55" width="2.5" height="2.5" fill="#1fb24a"/>
<rect x="461.75" y="337.75" width="2.5" height="2.5" fill="#1fb24a"/>
<rect x="476.45" y="334.15" width="2.5" height="2.5" fill="#1fb24a"/>
<rect x="476.45" y="337.35" width="2.5" height="2.5" fill="#1fb24a"/>
<rect x="476.45" y="345.25" width="2.5" height="2.5" fill="#1fb24a"/>
<circle cx="429.90" cy="345.70" r="1.35" fill="#083f8a"/>
<circle cx="429.90" cy="347.30" r="1.35" fill="#083f8a"/>
<circle cx="429.90" cy="348.90" r="1.35" fill="#083f8a"/>
<circle cx="429.90" cy="354.50" r="1.35" fill="#083f8a"/>
<circle cx="429.90" cy="356.10" r="1.35" fill="#083f8a"/>
<circle cx="429.90" cy="357.70" r="1.35" fill="#083f8a"/>
<circle cx="444.40" cy="335.40" r="1.35" fill="#083f8a"/>
<circle cx="444.40" cy="337.00" r="1.35" fill="#083f8a"/>
<circle cx="444.40" cy="339.00" r="1.35" fill="#083f8a"/>
<circle cx="444.40" cy="345.30" r="1.35" fill="#083f8a"/>
<circle cx="459.00" cy="335.80" r="1.35" fill="#083f8a"/>
<circle cx="459.00" cy="337.00" r="1.35" fill="#083f8a"/>
<circle cx="459.00" cy="346.20" r="1.35" fill="#083f8a"/>
<circle cx="473.70" cy="334.60" r="1.35" fill="#083f8a"/>
<circle cx="473.70" cy="335.70" r="1.35" fill="#083f8a"/>
<polygon points="436.30,410.52 439.70,410.52 438.00,407.46" fill="#d5143c"/>
<polygon points="436.30,412.32 439.70,412.32 438.00,409.26" fill="#d5143c"/>
<polygon points="450.70,410.52 454.10,410.52 452.40,407.46" fill="#d5143c"/>
<polygon points="450.70,412.32 454.10,412.32 452.40,409.26" fill="#d5143c"/>
<polygon points="465.60,408.92 469.00,408.92 467.30,405.86" fill="#d5143c"/>
<polygon points="465.60,412.32 469.00,412.32 467.30,409.26" fill="#d5143c"/>
<polygon points="480.10,408.42 483.50,408.42 481.80,405.36" fill="#d5143c"/>
<polygon points="480.10,412.32 483.50,412.32 481.80,409.26" fill="#d5143c"/>
<polygon points="494.60,411.82 498.00,411.82 496.30,408.76" fill="#d5143c"/>
<polygon points="509.10,409.52 512.50,409.52 510.80,406.46" fill="#d5143c"/>
<polygon points="509.10,412.32 512.50,412.32 510.80,409.26" fill="#d5143c"/>
<text x="6.80" y="459.20" font-size="11" fill="#000" font-weight="bold">K</text>
<line x1="34.20" y1="485.40" x2="34.20" y2="564.40" stroke="#231f20" stroke-width="1.3"/>
<line x1="32.20" y1="563.80" x2="34.20" y2="563.80" stroke="#231f20" stroke-width="0.95"/>
<line x1="32.20" y1="560.42" x2="34.20" y2="560.42" stroke="#231f20" stroke-width="0.95"/>
<line x1="32.20" y1="557.04" x2="34.20" y2="557.04" stroke="#231f20" stroke-width="0.95"/>
<line x1="32.20" y1="553.66" x2="34.20" y2="553.66" stroke="#231f20" stroke-width="0.95"/>
<line x1="32.20" y1="550.28" x2="34.20" y2="550.28" stroke="#231f20" stroke-width="0.95"/>
<line x1="32.20" y1="546.90" x2="34.20" y2="546.90" stroke="#231f20" stroke-width="0.95"/>
<line x1="32.20" y1="543.52" x2="34.20" y2="543.52" stroke="#231f20" stroke-width="0.95"/>
<line x1="32.20" y1="540.14" x2="34.20" y2="540.14" stroke="#231f20" stroke-width="0.95"/>
<line x1="32.20" y1="536.76" x2="34.20" y2="536.76" stroke="#231f20" stroke-width="0.95"/>
<line x1="32.20" y1="533.38" x2="34.20" y2="533.38" stroke="#231f20" stroke-width="0.95"/>
<line x1="32.20" y1="530.00" x2="34.20" y2="530.00" stroke="#231f20" stroke-width="0.95"/>
<line x1="32.20" y1="526.62" x2="34.20" y2="526.62" stroke="#231f20" stroke-width="0.95"/>
<line x1="32.20" y1="523.24" x2="34.20" y2="523.24" stroke="#231f20" stroke-width="0.95"/>
<line x1="32.20" y1="519.86" x2="34.20" y2="519.86" stroke="#231f20" stroke-width="0.95"/>
<line x1="32.20" y1="516.48" x2="34.20" y2="516.48" stroke="#231f20" stroke-width="0.95"/>
<line x1="32.20" y1="513.10" x2="34.20" y2="513.10" stroke="#231f20" stroke-width="0.95"/>
<line x1="32.20" y1="509.72" x2="34.20" y2="509.72" stroke="#231f20" stroke-width="0.95"/>
<line x1="32.20" y1="506.34" x2="34.20" y2="506.34" stroke="#231f20" stroke-width="0.95"/>
<line x1="32.20" y1="502.96" x2="34.20" y2="502.96" stroke="#231f20" stroke-width="0.95"/>
<line x1="32.20" y1="499.58" x2="34.20" y2="499.58" stroke="#231f20" stroke-width="0.95"/>
<line x1="32.20" y1="496.20" x2="34.20" y2="496.20" stroke="#231f20" stroke-width="0.95"/>
<line x1="32.20" y1="492.82" x2="34.20" y2="492.82" stroke="#231f20" stroke-width="0.95"/>
<line x1="32.20" y1="489.44" x2="34.20" y2="489.44" stroke="#231f20" stroke-width="0.95"/>
<line x1="32.20" y1="486.06" x2="34.20" y2="486.06" stroke="#231f20" stroke-width="0.95"/>
<line x1="31.00" y1="496.20" x2="34.20" y2="496.20" stroke="#231f20" stroke-width="1.0"/>
<text x="28.60" y="499.10" font-size="8.2" text-anchor="end" stroke="#231f20" stroke-width="0.18" textLength="10.49" lengthAdjust="spacingAndGlyphs">1.0</text>
<line x1="31.00" y1="530.00" x2="34.20" y2="530.00" stroke="#231f20" stroke-width="1.0"/>
<text x="28.60" y="532.90" font-size="8.2" text-anchor="end" stroke="#231f20" stroke-width="0.18" textLength="10.49" lengthAdjust="spacingAndGlyphs">0.5</text>
<line x1="31.00" y1="563.80" x2="34.20" y2="563.80" stroke="#231f20" stroke-width="1.0"/>
<text x="28.60" y="566.70" font-size="8.2" text-anchor="end" stroke="#231f20" stroke-width="0.18" textLength="10.49" lengthAdjust="spacingAndGlyphs">0.0</text>
<line x1="33.60" y1="563.80" x2="145.90" y2="563.80" stroke="#231f20" stroke-width="1.3"/>
<line x1="34.20" y1="563.80" x2="34.20" y2="565.80" stroke="#231f20" stroke-width="0.95"/>
<line x1="37.79" y1="563.80" x2="37.79" y2="565.80" stroke="#231f20" stroke-width="0.95"/>
<line x1="41.37" y1="563.80" x2="41.37" y2="565.80" stroke="#231f20" stroke-width="0.95"/>
<line x1="44.96" y1="563.80" x2="44.96" y2="565.80" stroke="#231f20" stroke-width="0.95"/>
<line x1="48.54" y1="563.80" x2="48.54" y2="565.80" stroke="#231f20" stroke-width="0.95"/>
<line x1="52.13" y1="563.80" x2="52.13" y2="565.80" stroke="#231f20" stroke-width="0.95"/>
<line x1="55.71" y1="563.80" x2="55.71" y2="565.80" stroke="#231f20" stroke-width="0.95"/>
<line x1="59.30" y1="563.80" x2="59.30" y2="565.80" stroke="#231f20" stroke-width="0.95"/>
<line x1="62.88" y1="563.80" x2="62.88" y2="565.80" stroke="#231f20" stroke-width="0.95"/>
<line x1="66.47" y1="563.80" x2="66.47" y2="565.80" stroke="#231f20" stroke-width="0.95"/>
<line x1="70.05" y1="563.80" x2="70.05" y2="565.80" stroke="#231f20" stroke-width="0.95"/>
<line x1="73.64" y1="563.80" x2="73.64" y2="565.80" stroke="#231f20" stroke-width="0.95"/>
<line x1="77.22" y1="563.80" x2="77.22" y2="565.80" stroke="#231f20" stroke-width="0.95"/>
<line x1="80.81" y1="563.80" x2="80.81" y2="565.80" stroke="#231f20" stroke-width="0.95"/>
<line x1="84.39" y1="563.80" x2="84.39" y2="565.80" stroke="#231f20" stroke-width="0.95"/>
<line x1="87.98" y1="563.80" x2="87.98" y2="565.80" stroke="#231f20" stroke-width="0.95"/>
<line x1="91.56" y1="563.80" x2="91.56" y2="565.80" stroke="#231f20" stroke-width="0.95"/>
<line x1="95.15" y1="563.80" x2="95.15" y2="565.80" stroke="#231f20" stroke-width="0.95"/>
<line x1="98.73" y1="563.80" x2="98.73" y2="565.80" stroke="#231f20" stroke-width="0.95"/>
<line x1="102.32" y1="563.80" x2="102.32" y2="565.80" stroke="#231f20" stroke-width="0.95"/>
<line x1="105.90" y1="563.80" x2="105.90" y2="565.80" stroke="#231f20" stroke-width="0.95"/>
<line x1="109.49" y1="563.80" x2="109.49" y2="565.80" stroke="#231f20" stroke-width="0.95"/>
<line x1="113.07" y1="563.80" x2="113.07" y2="565.80" stroke="#231f20" stroke-width="0.95"/>
<line x1="116.66" y1="563.80" x2="116.66" y2="565.80" stroke="#231f20" stroke-width="0.95"/>
<line x1="120.24" y1="563.80" x2="120.24" y2="565.80" stroke="#231f20" stroke-width="0.95"/>
<line x1="123.83" y1="563.80" x2="123.83" y2="565.80" stroke="#231f20" stroke-width="0.95"/>
<line x1="127.41" y1="563.80" x2="127.41" y2="565.80" stroke="#231f20" stroke-width="0.95"/>
<line x1="131.00" y1="563.80" x2="131.00" y2="565.80" stroke="#231f20" stroke-width="0.95"/>
<line x1="134.58" y1="563.80" x2="134.58" y2="565.80" stroke="#231f20" stroke-width="0.95"/>
<line x1="138.17" y1="563.80" x2="138.17" y2="565.80" stroke="#231f20" stroke-width="0.95"/>
<line x1="141.75" y1="563.80" x2="141.75" y2="565.80" stroke="#231f20" stroke-width="0.95"/>
<line x1="145.34" y1="563.80" x2="145.34" y2="565.80" stroke="#231f20" stroke-width="0.95"/>
<line x1="34.20" y1="563.80" x2="34.20" y2="567.00" stroke="#231f20" stroke-width="1.0"/>
<text x="34.20" y="576.40" font-size="8.2" text-anchor="middle" stroke="#231f20" stroke-width="0.18" textLength="4.20" lengthAdjust="spacingAndGlyphs">0</text>
<line x1="70.05" y1="563.80" x2="70.05" y2="567.00" stroke="#231f20" stroke-width="1.0"/>
<text x="70.05" y="576.40" font-size="8.2" text-anchor="middle" stroke="#231f20" stroke-width="0.18" textLength="8.39" lengthAdjust="spacingAndGlyphs">20</text>
<line x1="105.90" y1="563.80" x2="105.90" y2="567.00" stroke="#231f20" stroke-width="1.0"/>
<text x="105.90" y="576.40" font-size="8.2" text-anchor="middle" stroke="#231f20" stroke-width="0.18" textLength="8.39" lengthAdjust="spacingAndGlyphs">40</text>
<line x1="141.75" y1="563.80" x2="141.75" y2="567.00" stroke="#231f20" stroke-width="1.0"/>
<text x="141.75" y="576.40" font-size="8.2" text-anchor="middle" stroke="#231f20" stroke-width="0.18" textLength="8.39" lengthAdjust="spacingAndGlyphs">60</text>
<text x="62.30" y="587.60" font-size="10" stroke="#231f20" stroke-width="0.18" textLength="48.00" lengthAdjust="spacingAndGlyphs">Days from CAR</text>
<text x="14.30" y="527.50" font-size="10" text-anchor="middle" stroke="#231f20" stroke-width="0.18" textLength="71.50" lengthAdjust="spacingAndGlyphs" transform="rotate(-90 14.30 527.50)">Probability of survival</text>
<path d="M109.6,496.20 H141.75" fill="none" stroke="#d8274a" stroke-width="1.5"/>
<path d="M96.5,496.20 H109.7 V541.7 H111.2 V563.80" fill="none" stroke="#3dba4a" stroke-width="1.5"/>
<path d="M34.20,496.20 H97.0 V509.5 H109.5 V537.0 H110.8 V550.4 H113.1 V563.80" fill="none" stroke="#1f5b9d" stroke-width="1.5"/>
<line x1="129.20" y1="495.00" x2="129.20" y2="497.40" stroke="#d8274a" stroke-width="0.9"/>
<line x1="141.90" y1="495.00" x2="141.90" y2="497.40" stroke="#d8274a" stroke-width="0.9"/>
<line x1="115.80" y1="514.20" x2="124.20" y2="514.20" stroke="#1f5b9d" stroke-width="1.3"/>
<line x1="120.00" y1="513.20" x2="120.00" y2="514.20" stroke="#1f5b9d" stroke-width="0.8"/>
<text x="126.90" y="516.90" font-size="8.2" fill="#1f5b9d" stroke="#1f5b9d" stroke-width="0.18" textLength="9.70" lengthAdjust="spacingAndGlyphs">NT</text>
<line x1="115.80" y1="522.70" x2="124.20" y2="522.70" stroke="#3dba4a" stroke-width="1.3"/>
<line x1="120.00" y1="521.70" x2="120.00" y2="522.70" stroke="#3dba4a" stroke-width="0.8"/>
<text x="126.90" y="525.40" font-size="8.2" fill="#3dba4a" stroke="#3dba4a" stroke-width="0.18" textLength="23.70" lengthAdjust="spacingAndGlyphs">CAR19</text>
<line x1="115.80" y1="531.20" x2="124.20" y2="531.20" stroke="#d8274a" stroke-width="1.3"/>
<line x1="120.00" y1="530.20" x2="120.00" y2="531.20" stroke="#d8274a" stroke-width="0.8"/>
<text x="126.90" y="533.90" font-size="8.2" fill="#d8274a" stroke="#d8274a" stroke-width="0.18" textLength="34.60" lengthAdjust="spacingAndGlyphs">CARCCR9</text>
<text x="163.20" y="497.00" font-size="8.2" stroke="#231f20" stroke-width="0.18" textLength="10.60" lengthAdjust="spacingAndGlyphs">OS</text>
<text x="158.00" y="506.30" font-size="8.2" stroke="#231f20" stroke-width="0.18" textLength="20.80" lengthAdjust="spacingAndGlyphs">(days)</text>
<text x="165.00" y="516.90" font-size="8.2" stroke="#231f20" stroke-width="0.18" textLength="8.00" lengthAdjust="spacingAndGlyphs">42</text>
<text x="165.00" y="525.40" font-size="8.2" stroke="#231f20" stroke-width="0.18" textLength="8.00" lengthAdjust="spacingAndGlyphs">42</text>
<text x="163.90" y="533.90" font-size="8.2" stroke="#231f20" stroke-width="0.18" textLength="9.90" lengthAdjust="spacingAndGlyphs">NR</text>
<text x="131.50" y="549.50" font-size="8.2" stroke="#231f20" stroke-width="0.18" textLength="38.10" lengthAdjust="spacingAndGlyphs">p = 0.0032</text>
<text x="187.60" y="459.40" font-size="11" fill="#000" font-weight="bold">L</text>
<line x1="217.20" y1="491.90" x2="217.20" y2="564.60" stroke="#231f20" stroke-width="1.3"/>
<line x1="214.60" y1="496.20" x2="217.20" y2="496.20" stroke="#231f20" stroke-width="1.0"/>
<text x="212.00" y="499.15" font-size="8.2" text-anchor="end" stroke="#231f20" stroke-width="0.18" textLength="10.26" lengthAdjust="spacingAndGlyphs">1.5</text>
<line x1="214.60" y1="518.80" x2="217.20" y2="518.80" stroke="#231f20" stroke-width="1.0"/>
<text x="212.00" y="521.75" font-size="8.2" text-anchor="end" stroke="#231f20" stroke-width="0.18" textLength="10.26" lengthAdjust="spacingAndGlyphs">1.0</text>
<line x1="214.60" y1="541.40" x2="217.20" y2="541.40" stroke="#231f20" stroke-width="1.0"/>
<text x="212.00" y="544.35" font-size="8.2" text-anchor="end" stroke="#231f20" stroke-width="0.18" textLength="10.26" lengthAdjust="spacingAndGlyphs">0.5</text>
<line x1="214.60" y1="564.00" x2="217.20" y2="564.00" stroke="#231f20" stroke-width="1.0"/>
<text x="212.00" y="566.95" font-size="8.2" text-anchor="end" stroke="#231f20" stroke-width="0.18" textLength="10.26" lengthAdjust="spacingAndGlyphs">0.0</text>
<line x1="216.60" y1="564.00" x2="262.70" y2="564.00" stroke="#231f20" stroke-width="1.3"/>
<line x1="226.40" y1="564.00" x2="226.40" y2="566.20" stroke="#231f20" stroke-width="1.0"/>
<line x1="239.90" y1="564.00" x2="239.90" y2="566.20" stroke="#231f20" stroke-width="1.0"/>
<line x1="253.60" y1="564.00" x2="253.60" y2="566.20" stroke="#231f20" stroke-width="1.0"/>
<text x="195.00" y="528.00" font-size="10" text-anchor="middle" stroke="#231f20" stroke-width="0.18" textLength="52.40" lengthAdjust="spacingAndGlyphs" transform="rotate(-90 195.00 528.00)">Spleen mass (g)</text>
<text x="229.20" y="574.40" font-size="9.0" text-anchor="end" stroke="#231f20" stroke-width="0.18" textLength="9.48" lengthAdjust="spacingAndGlyphs" transform="rotate(-45 229.20 574.40)">NT</text>
<text x="242.70" y="574.40" font-size="9.0" text-anchor="end" stroke="#231f20" stroke-width="0.18" textLength="22.92" lengthAdjust="spacingAndGlyphs" transform="rotate(-45 242.70 574.40)">CAR19</text>
<text x="256.40" y="574.40" font-size="9.0" text-anchor="end" stroke="#231f20" stroke-width="0.18" textLength="19.36" lengthAdjust="spacingAndGlyphs" transform="rotate(-45 256.40 574.40)">CCR9</text>
<path d="M226.40,477.20 V473.70 H253.60 V477.20" fill="none" stroke="#222" stroke-width="1.05"/>
<polygon points="233.75,467.20 234.16,468.19 235.22,468.27 234.41,468.97 234.66,470.00 233.75,469.45 232.84,470.00 233.09,468.97 232.28,468.27 233.34,468.19" fill="#1a1a1a" stroke="#1a1a1a" stroke-width="0.25" stroke-linejoin="round"/>
<polygon points="238.05,467.20 238.46,468.19 239.52,468.27 238.71,468.97 238.96,470.00 238.05,469.45 237.14,470.00 237.39,468.97 236.58,468.27 237.64,468.19" fill="#1a1a1a" stroke="#1a1a1a" stroke-width="0.25" stroke-linejoin="round"/>
<polygon points="242.35,467.20 242.76,468.19 243.82,468.27 243.01,468.97 243.26,470.00 242.35,469.45 241.44,470.00 241.69,468.97 240.88,468.27 241.94,468.19" fill="#1a1a1a" stroke="#1a1a1a" stroke-width="0.25" stroke-linejoin="round"/>
<polygon points="246.65,467.20 247.06,468.19 248.12,468.27 247.31,468.97 247.56,470.00 246.65,469.45 245.74,470.00 245.99,468.97 245.18,468.27 246.24,468.19" fill="#1a1a1a" stroke="#1a1a1a" stroke-width="0.25" stroke-linejoin="round"/>
<path d="M239.70,491.10 V487.10 H253.60 V491.10" fill="none" stroke="#222" stroke-width="1.05"/>
<polygon points="240.75,480.70 241.16,481.69 242.22,481.77 241.41,482.47 241.66,483.50 240.75,482.95 239.84,483.50 240.09,482.47 239.28,481.77 240.34,481.69" fill="#1a1a1a" stroke="#1a1a1a" stroke-width="0.25" stroke-linejoin="round"/>
<polygon points="245.05,480.70 245.46,481.69 246.52,481.77 245.71,482.47 245.96,483.50 245.05,482.95 244.14,483.50 244.39,482.47 243.58,481.77 244.64,481.69" fill="#1a1a1a" stroke="#1a1a1a" stroke-width="0.25" stroke-linejoin="round"/>
<polygon points="249.35,480.70 249.76,481.69 250.82,481.77 250.01,482.47 250.26,483.50 249.35,482.95 248.44,483.50 248.69,482.47 247.88,481.77 248.94,481.69" fill="#1a1a1a" stroke="#1a1a1a" stroke-width="0.25" stroke-linejoin="round"/>
<polygon points="253.65,480.70 254.06,481.69 255.12,481.77 254.31,482.47 254.56,483.50 253.65,482.95 252.74,483.50 252.99,482.47 252.18,481.77 253.24,481.69" fill="#1a1a1a" stroke="#1a1a1a" stroke-width="0.25" stroke-linejoin="round"/>
<path d="M226.40,505.80 V501.80 H240.20 V505.80" fill="none" stroke="#222" stroke-width="1.05"/>
<text x="234.00" y="498.99" font-size="9.2" text-anchor="middle" stroke="#231f20" stroke-width="0.18" textLength="9.04" lengthAdjust="spacingAndGlyphs">ns</text>
<circle cx="226.40" cy="509.70" r="1.55" fill="#083f8a"/>
<circle cx="223.10" cy="514.40" r="1.55" fill="#083f8a"/>
<circle cx="229.80" cy="514.40" r="1.55" fill="#083f8a"/>
<circle cx="226.40" cy="519.10" r="1.55" fill="#083f8a"/>
<circle cx="226.40" cy="523.60" r="1.55" fill="#083f8a"/>
<line x1="221.80" y1="514.40" x2="231.00" y2="514.40" stroke="#083f8a" stroke-width="1.0"/>
<circle cx="239.70" cy="514.40" r="1.55" fill="#1fb24a"/>
<circle cx="239.70" cy="519.10" r="1.55" fill="#1fb24a"/>
<circle cx="239.70" cy="532.50" r="1.55" fill="#1fb24a"/>
<line x1="235.70" y1="519.10" x2="244.10" y2="519.10" stroke="#1fb24a" stroke-width="1.0"/>
<circle cx="253.60" cy="556.70" r="1.55" fill="#d5143c"/>
<circle cx="250.10" cy="559.30" r="1.55" fill="#d5143c"/>
<circle cx="257.20" cy="559.30" r="1.55" fill="#d5143c"/>
<circle cx="253.60" cy="562.40" r="1.55" fill="#d5143c"/>
<line x1="249.20" y1="559.30" x2="258.00" y2="559.30" stroke="#d5143c" stroke-width="1.0"/>
<text x="271.20" y="459.40" font-size="11" fill="#000" font-weight="bold">M</text>
<line x1="303.40" y1="491.60" x2="303.40" y2="564.60" stroke="#231f20" stroke-width="1.3"/>
<line x1="300.80" y1="495.40" x2="303.40" y2="495.40" stroke="#231f20" stroke-width="1.0"/>
<text x="297.80" y="498.35" font-size="8.2" text-anchor="end" stroke="#231f20" stroke-width="0.18" textLength="12.31" lengthAdjust="spacingAndGlyphs">100</text>
<line x1="300.80" y1="509.12" x2="303.40" y2="509.12" stroke="#231f20" stroke-width="1.0"/>
<text x="297.80" y="512.07" font-size="8.2" text-anchor="end" stroke="#231f20" stroke-width="0.18" textLength="8.21" lengthAdjust="spacingAndGlyphs">80</text>
<line x1="300.80" y1="522.84" x2="303.40" y2="522.84" stroke="#231f20" stroke-width="1.0"/>
<text x="297.80" y="525.79" font-size="8.2" text-anchor="end" stroke="#231f20" stroke-width="0.18" textLength="8.21" lengthAdjust="spacingAndGlyphs">60</text>
<line x1="300.80" y1="536.56" x2="303.40" y2="536.56" stroke="#231f20" stroke-width="1.0"/>
<text x="297.80" y="539.51" font-size="8.2" text-anchor="end" stroke="#231f20" stroke-width="0.18" textLength="8.21" lengthAdjust="spacingAndGlyphs">40</text>
<line x1="300.80" y1="550.28" x2="303.40" y2="550.28" stroke="#231f20" stroke-width="1.0"/>
<text x="297.80" y="553.23" font-size="8.2" text-anchor="end" stroke="#231f20" stroke-width="0.18" textLength="8.21" lengthAdjust="spacingAndGlyphs">20</text>
<line x1="300.80" y1="564.00" x2="303.40" y2="564.00" stroke="#231f20" stroke-width="1.0"/>
<text x="297.80" y="566.95" font-size="8.2" text-anchor="end" stroke="#231f20" stroke-width="0.18" textLength="4.10" lengthAdjust="spacingAndGlyphs">0</text>
<line x1="302.80" y1="564.00" x2="348.60" y2="564.00" stroke="#231f20" stroke-width="1.3"/>
<line x1="312.20" y1="564.00" x2="312.20" y2="566.20" stroke="#231f20" stroke-width="1.0"/>
<line x1="325.60" y1="564.00" x2="325.60" y2="566.20" stroke="#231f20" stroke-width="1.0"/>
<line x1="339.40" y1="564.00" x2="339.40" y2="566.20" stroke="#231f20" stroke-width="1.0"/>
<text x="278.90" y="527.50" font-size="10" text-anchor="middle" stroke="#231f20" stroke-width="0.18" textLength="64.90" lengthAdjust="spacingAndGlyphs" transform="rotate(-90 278.90 527.50)">% Tumour in spleen</text>
<text x="315.00" y="574.40" font-size="9.0" text-anchor="end" stroke="#231f20" stroke-width="0.18" textLength="9.48" lengthAdjust="spacingAndGlyphs" transform="rotate(-45 315.00 574.40)">NT</text>
<text x="328.40" y="574.40" font-size="9.0" text-anchor="end" stroke="#231f20" stroke-width="0.18" textLength="22.92" lengthAdjust="spacingAndGlyphs" transform="rotate(-45 328.40 574.40)">CAR19</text>
<text x="342.20" y="574.40" font-size="9.0" text-anchor="end" stroke="#231f20" stroke-width="0.18" textLength="19.36" lengthAdjust="spacingAndGlyphs" transform="rotate(-45 342.20 574.40)">CCR9</text>
<path d="M312.10,463.40 V460.20 H339.80 V463.40" fill="none" stroke="#222" stroke-width="1.05"/>
<polygon points="319.45,453.80 319.86,454.79 320.92,454.87 320.11,455.57 320.36,456.60 319.45,456.05 318.54,456.60 318.79,455.57 317.98,454.87 319.04,454.79" fill="#1a1a1a" stroke="#1a1a1a" stroke-width="0.25" stroke-linejoin="round"/>
<polygon points="323.75,453.80 324.16,454.79 325.22,454.87 324.41,455.57 324.66,456.60 323.75,456.05 322.84,456.60 323.09,455.57 322.28,454.87 323.34,454.79" fill="#1a1a1a" stroke="#1a1a1a" stroke-width="0.25" stroke-linejoin="round"/>
<polygon points="328.05,453.80 328.46,454.79 329.52,454.87 328.71,455.57 328.96,456.60 328.05,456.05 327.14,456.60 327.39,455.57 326.58,454.87 327.64,454.79" fill="#1a1a1a" stroke="#1a1a1a" stroke-width="0.25" stroke-linejoin="round"/>
<polygon points="332.35,453.80 332.76,454.79 333.82,454.87 333.01,455.57 333.26,456.60 332.35,456.05 331.44,456.60 331.69,455.57 330.88,454.87 331.94,454.79" fill="#1a1a1a" stroke="#1a1a1a" stroke-width="0.25" stroke-linejoin="round"/>
<path d="M325.60,477.20 V474.10 H339.80 V477.20" fill="none" stroke="#222" stroke-width="1.05"/>
<polygon points="326.95,467.70 327.36,468.69 328.42,468.77 327.61,469.47 327.86,470.50 326.95,469.95 326.04,470.50 326.29,469.47 325.48,468.77 326.54,468.69" fill="#1a1a1a" stroke="#1a1a1a" stroke-width="0.25" stroke-linejoin="round"/>
<polygon points="331.25,467.70 331.66,468.69 332.72,468.77 331.91,469.47 332.16,470.50 331.25,469.95 330.34,470.50 330.59,469.47 329.78,468.77 330.84,468.69" fill="#1a1a1a" stroke="#1a1a1a" stroke-width="0.25" stroke-linejoin="round"/>
<polygon points="335.55,467.70 335.96,468.69 337.02,468.77 336.21,469.47 336.46,470.50 335.55,469.95 334.64,470.50 334.89,469.47 334.08,468.77 335.14,468.69" fill="#1a1a1a" stroke="#1a1a1a" stroke-width="0.25" stroke-linejoin="round"/>
<polygon points="339.85,467.70 340.26,468.69 341.32,468.77 340.51,469.47 340.76,470.50 339.85,469.95 338.94,470.50 339.19,469.47 338.38,468.77 339.44,468.69" fill="#1a1a1a" stroke="#1a1a1a" stroke-width="0.25" stroke-linejoin="round"/>
<path d="M312.10,492.30 V488.50 H326.10 V492.30" fill="none" stroke="#222" stroke-width="1.05"/>
<text x="318.70" y="486.29" font-size="9.2" text-anchor="middle" stroke="#231f20" stroke-width="0.18" textLength="9.04" lengthAdjust="spacingAndGlyphs">ns</text>
<circle cx="310.00" cy="496.60" r="1.55" fill="#083f8a"/>
<circle cx="310.00" cy="499.20" r="1.55" fill="#083f8a"/>
<circle cx="314.50" cy="496.60" r="1.55" fill="#083f8a"/>
<circle cx="314.50" cy="499.20" r="1.55" fill="#083f8a"/>
<circle cx="312.30" cy="509.20" r="1.55" fill="#083f8a"/>
<circle cx="323.70" cy="499.50" r="1.55" fill="#1fb24a"/>
<circle cx="328.10" cy="499.50" r="1.55" fill="#1fb24a"/>
<circle cx="326.00" cy="516.10" r="1.55" fill="#1fb24a"/>
<line x1="321.50" y1="499.50" x2="330.50" y2="499.50" stroke="#1fb24a" stroke-width="1.0"/>
<circle cx="335.40" cy="563.60" r="1.55" fill="#d5143c"/>
<circle cx="337.60" cy="563.60" r="1.55" fill="#d5143c"/>
<circle cx="339.60" cy="563.60" r="1.55" fill="#d5143c"/>
<circle cx="341.70" cy="563.60" r="1.55" fill="#d5143c"/>
<circle cx="343.90" cy="563.60" r="1.55" fill="#d5143c"/>
<line x1="335.20" y1="563.60" x2="343.60" y2="563.60" stroke="#d5143c" stroke-width="1.0"/>
<text x="357.80" y="459.40" font-size="11" fill="#000" font-weight="bold">N</text>
<line x1="389.60" y1="494.00" x2="389.60" y2="565.00" stroke="#231f20" stroke-width="1.3"/>
<line x1="387.00" y1="497.65" x2="389.60" y2="497.65" stroke="#231f20" stroke-width="1.0"/>
<text x="384.00" y="500.60" font-size="8.2" text-anchor="end" stroke="#231f20" stroke-width="0.18" textLength="12.31" lengthAdjust="spacingAndGlyphs">100</text>
<line x1="387.00" y1="511.00" x2="389.60" y2="511.00" stroke="#231f20" stroke-width="1.0"/>
<text x="384.00" y="513.95" font-size="8.2" text-anchor="end" stroke="#231f20" stroke-width="0.18" textLength="8.21" lengthAdjust="spacingAndGlyphs">80</text>
<line x1="387.00" y1="524.35" x2="389.60" y2="524.35" stroke="#231f20" stroke-width="1.0"/>
<text x="384.00" y="527.30" font-size="8.2" text-anchor="end" stroke="#231f20" stroke-width="0.18" textLength="8.21" lengthAdjust="spacingAndGlyphs">60</text>
<line x1="387.00" y1="537.70" x2="389.60" y2="537.70" stroke="#231f20" stroke-width="1.0"/>
<text x="384.00" y="540.65" font-size="8.2" text-anchor="end" stroke="#231f20" stroke-width="0.18" textLength="8.21" lengthAdjust="spacingAndGlyphs">40</text>
<line x1="387.00" y1="551.05" x2="389.60" y2="551.05" stroke="#231f20" stroke-width="1.0"/>
<text x="384.00" y="554.00" font-size="8.2" text-anchor="end" stroke="#231f20" stroke-width="0.18" textLength="8.21" lengthAdjust="spacingAndGlyphs">20</text>
<line x1="387.00" y1="564.40" x2="389.60" y2="564.40" stroke="#231f20" stroke-width="1.0"/>
<text x="384.00" y="567.35" font-size="8.2" text-anchor="end" stroke="#231f20" stroke-width="0.18" textLength="4.10" lengthAdjust="spacingAndGlyphs">0</text>
<line x1="389.00" y1="564.40" x2="433.70" y2="564.40" stroke="#231f20" stroke-width="1.3"/>
<line x1="398.30" y1="564.40" x2="398.30" y2="566.60" stroke="#231f20" stroke-width="1.0"/>
<line x1="411.60" y1="564.40" x2="411.60" y2="566.60" stroke="#231f20" stroke-width="1.0"/>
<line x1="424.70" y1="564.40" x2="424.70" y2="566.60" stroke="#231f20" stroke-width="1.0"/>
<text x="365.30" y="529.00" font-size="10" text-anchor="middle" stroke="#231f20" stroke-width="0.18" textLength="59.50" lengthAdjust="spacingAndGlyphs" transform="rotate(-90 365.30 529.00)">% T cells in spleen</text>
<text x="401.10" y="574.40" font-size="9.0" text-anchor="end" stroke="#231f20" stroke-width="0.18" textLength="9.48" lengthAdjust="spacingAndGlyphs" transform="rotate(-45 401.10 574.40)">NT</text>
<text x="414.40" y="574.40" font-size="9.0" text-anchor="end" stroke="#231f20" stroke-width="0.18" textLength="22.92" lengthAdjust="spacingAndGlyphs" transform="rotate(-45 414.40 574.40)">CAR19</text>
<text x="427.50" y="574.40" font-size="9.0" text-anchor="end" stroke="#231f20" stroke-width="0.18" textLength="19.36" lengthAdjust="spacingAndGlyphs" transform="rotate(-45 427.50 574.40)">CCR9</text>
<path d="M398.30,467.30 V464.20 H425.10 V467.30" fill="none" stroke="#222" stroke-width="1.05"/>
<polygon points="405.15,457.60 405.56,458.59 406.62,458.67 405.81,459.37 406.06,460.40 405.15,459.85 404.24,460.40 404.49,459.37 403.68,458.67 404.74,458.59" fill="#1a1a1a" stroke="#1a1a1a" stroke-width="0.25" stroke-linejoin="round"/>
<polygon points="409.45,457.60 409.86,458.59 410.92,458.67 410.11,459.37 410.36,460.40 409.45,459.85 408.54,460.40 408.79,459.37 407.98,458.67 409.04,458.59" fill="#1a1a1a" stroke="#1a1a1a" stroke-width="0.25" stroke-linejoin="round"/>
<polygon points="413.75,457.60 414.16,458.59 415.22,458.67 414.41,459.37 414.66,460.40 413.75,459.85 412.84,460.40 413.09,459.37 412.28,458.67 413.34,458.59" fill="#1a1a1a" stroke="#1a1a1a" stroke-width="0.25" stroke-linejoin="round"/>
<polygon points="418.05,457.60 418.46,458.59 419.52,458.67 418.71,459.37 418.96,460.40 418.05,459.85 417.14,460.40 417.39,459.37 416.58,458.67 417.64,458.59" fill="#1a1a1a" stroke="#1a1a1a" stroke-width="0.25" stroke-linejoin="round"/>
<path d="M411.60,480.70 V477.20 H425.10 V480.70" fill="none" stroke="#222" stroke-width="1.05"/>
<polygon points="411.75,470.60 412.16,471.59 413.22,471.67 412.41,472.37 412.66,473.40 411.75,472.85 410.84,473.40 411.09,472.37 410.28,471.67 411.34,471.59" fill="#1a1a1a" stroke="#1a1a1a" stroke-width="0.25" stroke-linejoin="round"/>
<polygon points="416.05,470.60 416.46,471.59 417.52,471.67 416.71,472.37 416.96,473.40 416.05,472.85 415.14,473.40 415.39,472.37 414.58,471.67 415.64,471.59" fill="#1a1a1a" stroke="#1a1a1a" stroke-width="0.25" stroke-linejoin="round"/>
<polygon points="420.35,470.60 420.76,471.59 421.82,471.67 421.01,472.37 421.26,473.40 420.35,472.85 419.44,473.40 419.69,472.37 418.88,471.67 419.94,471.59" fill="#1a1a1a" stroke="#1a1a1a" stroke-width="0.25" stroke-linejoin="round"/>
<polygon points="424.65,470.60 425.06,471.59 426.12,471.67 425.31,472.37 425.56,473.40 424.65,472.85 423.74,473.40 423.99,472.37 423.18,471.67 424.24,471.59" fill="#1a1a1a" stroke="#1a1a1a" stroke-width="0.25" stroke-linejoin="round"/>
<path d="M398.30,495.40 V491.60 H411.60 V495.40" fill="none" stroke="#222" stroke-width="1.05"/>
<text x="404.00" y="488.59" font-size="9.2" text-anchor="middle" stroke="#231f20" stroke-width="0.18" textLength="9.04" lengthAdjust="spacingAndGlyphs">ns</text>
<circle cx="424.70" cy="499.40" r="1.55" fill="#d5143c"/>
<circle cx="424.70" cy="507.20" r="1.55" fill="#d5143c"/>
<circle cx="424.70" cy="509.00" r="1.55" fill="#d5143c"/>
<circle cx="424.70" cy="514.40" r="1.55" fill="#d5143c"/>
<circle cx="424.70" cy="518.40" r="1.55" fill="#d5143c"/>
<line x1="420.40" y1="509.20" x2="429.40" y2="509.20" stroke="#d5143c" stroke-width="1.0"/>
<circle cx="398.30" cy="559.30" r="1.55" fill="#083f8a"/>
<circle cx="395.20" cy="564.00" r="1.55" fill="#083f8a"/>
<circle cx="398.30" cy="564.00" r="1.55" fill="#083f8a"/>
<circle cx="401.70" cy="564.00" r="1.55" fill="#083f8a"/>
<line x1="393.90" y1="563.90" x2="402.70" y2="563.90" stroke="#083f8a" stroke-width="1.0"/>
<circle cx="411.60" cy="548.40" r="1.55" fill="#1fb24a"/>
<circle cx="410.00" cy="564.00" r="1.55" fill="#1fb24a"/>
<circle cx="413.80" cy="562.30" r="1.55" fill="#1fb24a"/>
<text x="441.30" y="459.40" font-size="11" fill="#000" font-weight="bold">O</text>
<line x1="466.00" y1="489.30" x2="466.00" y2="564.60" stroke="#231f20" stroke-width="1.3"/>
<line x1="463.40" y1="493.20" x2="466.00" y2="493.20" stroke="#231f20" stroke-width="1.0"/>
<text x="460.30" y="496.15" font-size="8.2" text-anchor="end" stroke="#231f20" stroke-width="0.18" textLength="4.10" lengthAdjust="spacingAndGlyphs">6</text>
<line x1="463.40" y1="516.80" x2="466.00" y2="516.80" stroke="#231f20" stroke-width="1.0"/>
<text x="460.30" y="519.75" font-size="8.2" text-anchor="end" stroke="#231f20" stroke-width="0.18" textLength="4.10" lengthAdjust="spacingAndGlyphs">4</text>
<line x1="463.40" y1="540.40" x2="466.00" y2="540.40" stroke="#231f20" stroke-width="1.0"/>
<text x="460.30" y="543.35" font-size="8.2" text-anchor="end" stroke="#231f20" stroke-width="0.18" textLength="4.10" lengthAdjust="spacingAndGlyphs">2</text>
<line x1="463.40" y1="564.00" x2="466.00" y2="564.00" stroke="#231f20" stroke-width="1.0"/>
<text x="460.30" y="566.95" font-size="8.2" text-anchor="end" stroke="#231f20" stroke-width="0.18" textLength="4.10" lengthAdjust="spacingAndGlyphs">0</text>
<line x1="465.40" y1="564.00" x2="512.70" y2="564.00" stroke="#231f20" stroke-width="1.3"/>
<line x1="479.70" y1="564.00" x2="479.70" y2="566.20" stroke="#231f20" stroke-width="1.0"/>
<line x1="499.60" y1="564.00" x2="499.60" y2="566.20" stroke="#231f20" stroke-width="1.0"/>
<text x="450.10" y="528.10" font-size="10" text-anchor="middle" stroke="#231f20" stroke-width="0.18" textLength="58.40" lengthAdjust="spacingAndGlyphs" transform="rotate(-90 450.10 528.10)">% Cells in marrow</text>
<text x="482.30" y="573.40" font-size="9.0" text-anchor="end" stroke="#231f20" stroke-width="0.18" textLength="23.25" lengthAdjust="spacingAndGlyphs" transform="rotate(-45 482.30 573.40)">T cells</text>
<text x="502.20" y="573.40" font-size="9.0" text-anchor="end" stroke="#231f20" stroke-width="0.18" textLength="27.60" lengthAdjust="spacingAndGlyphs" transform="rotate(-45 502.20 573.40)">Tumour</text>
<circle cx="479.50" cy="502.30" r="1.55" fill="#d5143c"/>
<circle cx="479.50" cy="507.20" r="1.55" fill="#d5143c"/>
<circle cx="479.50" cy="526.40" r="1.55" fill="#d5143c"/>
<circle cx="479.50" cy="535.60" r="1.55" fill="#d5143c"/>
<line x1="472.90" y1="516.70" x2="485.70" y2="516.70" stroke="#e0607a" stroke-width="1.0"/>
<circle cx="494.00" cy="564.00" r="1.55" fill="#083f8a"/>
<circle cx="497.20" cy="564.00" r="1.55" fill="#083f8a"/>
<circle cx="501.30" cy="564.00" r="1.55" fill="#083f8a"/>
<circle cx="505.30" cy="564.00" r="1.55" fill="#083f8a"/>
</svg>
</body></html>
